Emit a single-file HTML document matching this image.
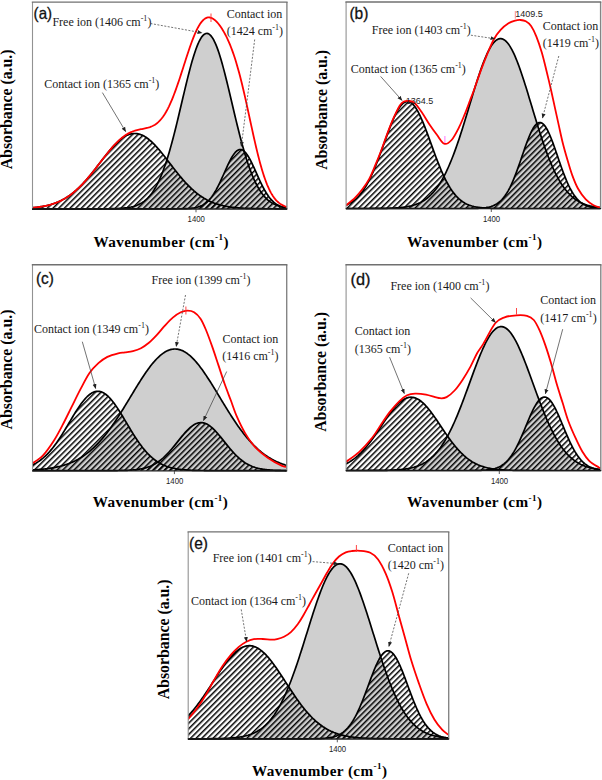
<!DOCTYPE html>
<html><head><meta charset="utf-8"><style>
html,body{margin:0;padding:0;background:#fff;}
body{width:602px;height:780px;overflow:hidden;}
svg{display:block;}
text{font-family:"Liberation Serif", serif;}
.ann{font-size:12px;fill:#1a1a1a;}
.lab{font-family:"Liberation Sans", sans-serif;fill:#111;}
.ax{font-weight:bold;fill:#000;}
.tk{font-family:"Liberation Sans", sans-serif;font-size:8px;fill:#222;}
</style></head><body>
<svg width="602" height="780" viewBox="0 0 602 780">
<defs>
<pattern id="hatch" patternUnits="userSpaceOnUse" width="20" height="4.0" patternTransform="rotate(-45)">
<rect x="0" y="0" width="20" height="1.5" fill="#000"/>
</pattern>
<marker id="ah" viewBox="0 0 10 10" refX="9" refY="5" markerWidth="5" markerHeight="5" orient="auto-start-reverse" markerUnits="userSpaceOnUse">
<path d="M0,1 L10,5 L0,9 Z" fill="#222"/>
</marker>
</defs>
<rect x="0" y="0" width="602" height="780" fill="#fff"/>

<clipPath id="clip_a"><rect x="32.00" y="2.00" width="255.00" height="208.80"/></clipPath>
<g clip-path="url(#clip_a)">
<path d="M32.00,208.80 L32.00,208.80 L33.00,208.80 L34.00,208.80 L35.00,208.80 L36.00,208.80 L37.00,208.80 L38.00,208.80 L39.00,208.80 L40.00,208.80 L41.00,208.80 L42.00,208.80 L43.00,208.80 L44.00,208.80 L45.00,208.80 L46.00,208.80 L47.00,208.80 L48.00,208.80 L49.00,208.80 L50.00,208.80 L51.00,208.80 L52.00,208.80 L53.00,208.80 L54.00,208.80 L55.00,208.80 L56.00,208.80 L57.00,208.80 L58.00,208.80 L59.00,208.80 L60.00,208.80 L61.00,208.80 L62.00,208.80 L63.00,208.80 L64.00,208.80 L65.00,208.80 L66.00,208.80 L67.00,208.80 L68.00,208.80 L69.00,208.80 L70.00,208.80 L71.00,208.80 L72.00,208.80 L73.00,208.80 L74.00,208.80 L75.00,208.80 L76.00,208.80 L77.00,208.80 L78.00,208.80 L79.00,208.80 L80.00,208.80 L81.00,208.80 L82.00,208.80 L83.00,208.80 L84.00,208.80 L85.00,208.80 L86.00,208.80 L87.00,208.80 L88.00,208.80 L89.00,208.80 L90.00,208.80 L91.00,208.80 L92.00,208.80 L93.00,208.79 L94.00,208.79 L95.00,208.79 L96.00,208.79 L97.00,208.79 L98.00,208.79 L99.00,208.78 L100.00,208.78 L101.00,208.78 L102.00,208.77 L103.00,208.77 L104.00,208.76 L105.00,208.76 L106.00,208.75 L107.00,208.74 L108.00,208.73 L109.00,208.72 L110.00,208.70 L111.00,208.69 L112.00,208.67 L113.00,208.65 L114.00,208.62 L115.00,208.59 L116.00,208.56 L117.00,208.52 L118.00,208.48 L119.00,208.43 L120.00,208.38 L121.00,208.31 L122.00,208.24 L123.00,208.16 L124.00,208.07 L125.00,207.97 L126.00,207.85 L127.00,207.72 L128.00,207.58 L129.00,207.42 L130.00,207.23 L131.00,207.03 L132.00,206.80 L133.00,206.55 L134.00,206.27 L135.00,205.96 L136.00,205.62 L137.00,205.24 L138.00,204.82 L139.00,204.36 L140.00,203.86 L141.00,203.31 L142.00,202.70 L143.00,202.04 L144.00,201.32 L145.00,200.54 L146.00,199.69 L147.00,198.76 L148.00,197.76 L149.00,196.69 L150.00,195.52 L151.00,194.27 L152.00,192.93 L153.00,191.49 L154.00,189.94 L155.00,188.30 L156.00,186.55 L157.00,184.68 L158.00,182.70 L159.00,180.60 L160.00,178.39 L161.00,176.05 L162.00,173.59 L163.00,171.00 L164.00,168.29 L165.00,165.45 L166.00,162.49 L167.00,159.41 L168.00,156.20 L169.00,152.88 L170.00,149.44 L171.00,145.89 L172.00,142.23 L173.00,138.48 L174.00,134.63 L175.00,130.69 L176.00,126.68 L177.00,122.60 L178.00,118.47 L179.00,114.28 L180.00,110.06 L181.00,105.82 L182.00,101.56 L183.00,97.31 L184.00,93.08 L185.00,88.87 L186.00,84.72 L187.00,80.62 L188.00,76.60 L189.00,72.67 L190.00,68.85 L191.00,65.15 L192.00,61.59 L193.00,58.19 L194.00,54.95 L195.00,51.89 L196.00,49.03 L197.00,46.37 L198.00,43.94 L199.00,41.73 L200.00,39.77 L201.00,38.06 L202.00,36.60 L203.00,35.41 L204.00,34.50 L205.00,33.85 L206.00,33.49 L207.00,33.41 L208.00,33.60 L209.00,34.08 L210.00,34.83 L211.00,35.86 L212.00,37.15 L213.00,38.71 L214.00,40.53 L215.00,42.59 L216.00,44.88 L217.00,47.41 L218.00,50.15 L219.00,53.09 L220.00,56.22 L221.00,59.53 L222.00,63.00 L223.00,66.62 L224.00,70.37 L225.00,74.23 L226.00,78.20 L227.00,82.25 L228.00,86.37 L229.00,90.55 L230.00,94.77 L231.00,99.01 L232.00,103.27 L233.00,107.52 L234.00,111.75 L235.00,115.96 L236.00,120.13 L237.00,124.24 L238.00,128.30 L239.00,132.28 L240.00,136.18 L241.00,139.99 L242.00,143.71 L243.00,147.32 L244.00,150.83 L245.00,154.22 L246.00,157.50 L247.00,160.65 L248.00,163.69 L249.00,166.60 L250.00,169.39 L251.00,172.05 L252.00,174.59 L253.00,177.00 L254.00,179.29 L255.00,181.46 L256.00,183.51 L257.00,185.44 L258.00,187.26 L259.00,188.97 L260.00,190.57 L261.00,192.07 L262.00,193.48 L263.00,194.78 L264.00,196.00 L265.00,197.13 L266.00,198.17 L267.00,199.14 L268.00,200.04 L269.00,200.86 L270.00,201.62 L271.00,202.31 L272.00,202.95 L273.00,203.53 L274.00,204.07 L275.00,204.55 L276.00,205.00 L277.00,205.40 L278.00,205.76 L279.00,206.09 L280.00,206.39 L281.00,206.66 L282.00,206.90 L283.00,207.11 L284.00,207.31 L285.00,207.48 L286.00,207.64 L287.00,207.78 L287.00,208.80 Z" fill="#cfcfcf"/>
<path d="M32.00,208.80 L32.00,207.78 L33.00,207.69 L34.00,207.60 L35.00,207.50 L36.00,207.39 L37.00,207.27 L38.00,207.14 L39.00,207.01 L40.00,206.86 L41.00,206.71 L42.00,206.54 L43.00,206.37 L44.00,206.18 L45.00,205.98 L46.00,205.77 L47.00,205.54 L48.00,205.30 L49.00,205.04 L50.00,204.77 L51.00,204.49 L52.00,204.18 L53.00,203.86 L54.00,203.52 L55.00,203.17 L56.00,202.79 L57.00,202.39 L58.00,201.98 L59.00,201.54 L60.00,201.08 L61.00,200.60 L62.00,200.09 L63.00,199.56 L64.00,199.01 L65.00,198.43 L66.00,197.83 L67.00,197.20 L68.00,196.55 L69.00,195.87 L70.00,195.16 L71.00,194.43 L72.00,193.67 L73.00,192.88 L74.00,192.06 L75.00,191.22 L76.00,190.35 L77.00,189.45 L78.00,188.53 L79.00,187.58 L80.00,186.60 L81.00,185.59 L82.00,184.56 L83.00,183.51 L84.00,182.43 L85.00,181.32 L86.00,180.20 L87.00,179.05 L88.00,177.88 L89.00,176.69 L90.00,175.49 L91.00,174.26 L92.00,173.02 L93.00,171.77 L94.00,170.50 L95.00,169.23 L96.00,167.94 L97.00,166.64 L98.00,165.34 L99.00,164.04 L100.00,162.74 L101.00,161.43 L102.00,160.13 L103.00,158.84 L104.00,157.55 L105.00,156.27 L106.00,155.00 L107.00,153.75 L108.00,152.51 L109.00,151.29 L110.00,150.10 L111.00,148.93 L112.00,147.78 L113.00,146.67 L114.00,145.58 L115.00,144.53 L116.00,143.52 L117.00,142.54 L118.00,141.60 L119.00,140.71 L120.00,139.86 L121.00,139.05 L122.00,138.30 L123.00,137.59 L124.00,136.94 L125.00,136.34 L126.00,135.79 L127.00,135.30 L128.00,134.87 L129.00,134.49 L130.00,134.18 L131.00,133.92 L132.00,133.72 L133.00,133.59 L134.00,133.52 L135.00,133.50 L136.00,133.55 L137.00,133.66 L138.00,133.83 L139.00,134.07 L140.00,134.36 L141.00,134.71 L142.00,135.12 L143.00,135.59 L144.00,136.11 L145.00,136.69 L146.00,137.32 L147.00,138.01 L148.00,138.75 L149.00,139.53 L150.00,140.36 L151.00,141.24 L152.00,142.16 L153.00,143.12 L154.00,144.12 L155.00,145.16 L156.00,146.23 L157.00,147.33 L158.00,148.47 L159.00,149.63 L160.00,150.81 L161.00,152.02 L162.00,153.25 L163.00,154.50 L164.00,155.76 L165.00,157.03 L166.00,158.32 L167.00,159.61 L168.00,160.91 L169.00,162.21 L170.00,163.52 L171.00,164.82 L172.00,166.13 L173.00,167.42 L174.00,168.71 L175.00,169.99 L176.00,171.26 L177.00,172.52 L178.00,173.77 L179.00,175.00 L180.00,176.21 L181.00,177.41 L182.00,178.59 L183.00,179.74 L184.00,180.88 L185.00,181.99 L186.00,183.08 L187.00,184.14 L188.00,185.18 L189.00,186.20 L190.00,187.19 L191.00,188.15 L192.00,189.09 L193.00,189.99 L194.00,190.88 L195.00,191.73 L196.00,192.56 L197.00,193.36 L198.00,194.13 L199.00,194.87 L200.00,195.59 L201.00,196.28 L202.00,196.94 L203.00,197.58 L204.00,198.20 L205.00,198.78 L206.00,199.35 L207.00,199.88 L208.00,200.40 L209.00,200.89 L210.00,201.36 L211.00,201.80 L212.00,202.23 L213.00,202.63 L214.00,203.02 L215.00,203.38 L216.00,203.73 L217.00,204.06 L218.00,204.37 L219.00,204.66 L220.00,204.94 L221.00,205.20 L222.00,205.44 L223.00,205.68 L224.00,205.89 L225.00,206.10 L226.00,206.29 L227.00,206.47 L228.00,206.64 L229.00,206.80 L230.00,206.95 L231.00,207.09 L232.00,207.22 L233.00,207.34 L234.00,207.45 L235.00,207.56 L236.00,207.66 L237.00,207.75 L238.00,207.83 L239.00,207.91 L240.00,207.98 L241.00,208.05 L242.00,208.11 L243.00,208.17 L244.00,208.23 L245.00,208.27 L246.00,208.32 L247.00,208.36 L248.00,208.40 L249.00,208.44 L250.00,208.47 L251.00,208.50 L252.00,208.53 L253.00,208.55 L254.00,208.57 L255.00,208.60 L256.00,208.61 L257.00,208.63 L258.00,208.65 L259.00,208.66 L260.00,208.68 L261.00,208.69 L262.00,208.70 L263.00,208.71 L264.00,208.72 L265.00,208.73 L266.00,208.73 L267.00,208.74 L268.00,208.75 L269.00,208.75 L270.00,208.76 L271.00,208.76 L272.00,208.77 L273.00,208.77 L274.00,208.77 L275.00,208.78 L276.00,208.78 L277.00,208.78 L278.00,208.78 L279.00,208.78 L280.00,208.79 L281.00,208.79 L282.00,208.79 L283.00,208.79 L284.00,208.79 L285.00,208.79 L286.00,208.79 L287.00,208.79 L287.00,208.80 Z" fill="url(#hatch)"/>
<path d="M32.00,208.80 L32.00,208.80 L33.00,208.80 L34.00,208.80 L35.00,208.80 L36.00,208.80 L37.00,208.80 L38.00,208.80 L39.00,208.80 L40.00,208.80 L41.00,208.80 L42.00,208.80 L43.00,208.80 L44.00,208.80 L45.00,208.80 L46.00,208.80 L47.00,208.80 L48.00,208.80 L49.00,208.80 L50.00,208.80 L51.00,208.80 L52.00,208.80 L53.00,208.80 L54.00,208.80 L55.00,208.80 L56.00,208.80 L57.00,208.80 L58.00,208.80 L59.00,208.80 L60.00,208.80 L61.00,208.80 L62.00,208.80 L63.00,208.80 L64.00,208.80 L65.00,208.80 L66.00,208.80 L67.00,208.80 L68.00,208.80 L69.00,208.80 L70.00,208.80 L71.00,208.80 L72.00,208.80 L73.00,208.80 L74.00,208.80 L75.00,208.80 L76.00,208.80 L77.00,208.80 L78.00,208.80 L79.00,208.80 L80.00,208.80 L81.00,208.80 L82.00,208.80 L83.00,208.80 L84.00,208.80 L85.00,208.80 L86.00,208.80 L87.00,208.80 L88.00,208.80 L89.00,208.80 L90.00,208.80 L91.00,208.80 L92.00,208.80 L93.00,208.80 L94.00,208.80 L95.00,208.80 L96.00,208.80 L97.00,208.80 L98.00,208.80 L99.00,208.80 L100.00,208.80 L101.00,208.80 L102.00,208.80 L103.00,208.80 L104.00,208.80 L105.00,208.80 L106.00,208.80 L107.00,208.80 L108.00,208.80 L109.00,208.80 L110.00,208.80 L111.00,208.80 L112.00,208.80 L113.00,208.80 L114.00,208.80 L115.00,208.80 L116.00,208.80 L117.00,208.80 L118.00,208.80 L119.00,208.80 L120.00,208.80 L121.00,208.80 L122.00,208.80 L123.00,208.80 L124.00,208.80 L125.00,208.80 L126.00,208.80 L127.00,208.80 L128.00,208.80 L129.00,208.80 L130.00,208.80 L131.00,208.80 L132.00,208.80 L133.00,208.80 L134.00,208.80 L135.00,208.80 L136.00,208.80 L137.00,208.80 L138.00,208.80 L139.00,208.80 L140.00,208.80 L141.00,208.80 L142.00,208.80 L143.00,208.80 L144.00,208.80 L145.00,208.80 L146.00,208.80 L147.00,208.80 L148.00,208.80 L149.00,208.80 L150.00,208.80 L151.00,208.80 L152.00,208.80 L153.00,208.80 L154.00,208.80 L155.00,208.80 L156.00,208.80 L157.00,208.80 L158.00,208.80 L159.00,208.80 L160.00,208.80 L161.00,208.80 L162.00,208.80 L163.00,208.80 L164.00,208.80 L165.00,208.80 L166.00,208.80 L167.00,208.80 L168.00,208.80 L169.00,208.80 L170.00,208.80 L171.00,208.79 L172.00,208.79 L173.00,208.79 L174.00,208.79 L175.00,208.79 L176.00,208.78 L177.00,208.78 L178.00,208.77 L179.00,208.76 L180.00,208.75 L181.00,208.74 L182.00,208.72 L183.00,208.70 L184.00,208.68 L185.00,208.65 L186.00,208.61 L187.00,208.57 L188.00,208.52 L189.00,208.45 L190.00,208.38 L191.00,208.29 L192.00,208.18 L193.00,208.05 L194.00,207.90 L195.00,207.72 L196.00,207.52 L197.00,207.28 L198.00,207.00 L199.00,206.68 L200.00,206.31 L201.00,205.90 L202.00,205.42 L203.00,204.88 L204.00,204.28 L205.00,203.60 L206.00,202.84 L207.00,202.00 L208.00,201.07 L209.00,200.05 L210.00,198.93 L211.00,197.71 L212.00,196.39 L213.00,194.97 L214.00,193.44 L215.00,191.81 L216.00,190.09 L217.00,188.26 L218.00,186.35 L219.00,184.35 L220.00,182.28 L221.00,180.15 L222.00,177.97 L223.00,175.75 L224.00,173.51 L225.00,171.26 L226.00,169.03 L227.00,166.82 L228.00,164.67 L229.00,162.59 L230.00,160.60 L231.00,158.72 L232.00,156.97 L233.00,155.36 L234.00,153.92 L235.00,152.67 L236.00,151.60 L237.00,150.75 L238.00,150.11 L239.00,149.70 L240.00,149.51 L241.00,149.56 L242.00,149.83 L243.00,150.34 L244.00,151.06 L245.00,152.00 L246.00,153.15 L247.00,154.48 L248.00,155.98 L249.00,157.65 L250.00,159.45 L251.00,161.38 L252.00,163.41 L253.00,165.52 L254.00,167.70 L255.00,169.92 L256.00,172.16 L257.00,174.41 L258.00,176.64 L259.00,178.85 L260.00,181.01 L261.00,183.12 L262.00,185.16 L263.00,187.12 L264.00,189.00 L265.00,190.79 L266.00,192.48 L267.00,194.06 L268.00,195.55 L269.00,196.93 L270.00,198.21 L271.00,199.39 L272.00,200.47 L273.00,201.45 L274.00,202.35 L275.00,203.15 L276.00,203.88 L277.00,204.53 L278.00,205.11 L279.00,205.62 L280.00,206.07 L281.00,206.47 L282.00,206.81 L283.00,207.12 L284.00,207.38 L285.00,207.60 L286.00,207.80 L287.00,207.96 L287.00,208.80 Z" fill="url(#hatch)"/>
<path d="M32.00,207.78 L33.00,207.69 L34.00,207.60 L35.00,207.50 L36.00,207.39 L37.00,207.27 L38.00,207.14 L39.00,207.01 L40.00,206.86 L41.00,206.71 L42.00,206.54 L43.00,206.37 L44.00,206.18 L45.00,205.98 L46.00,205.77 L47.00,205.54 L48.00,205.30 L49.00,205.04 L50.00,204.77 L51.00,204.49 L52.00,204.18 L53.00,203.86 L54.00,203.52 L55.00,203.17 L56.00,202.79 L57.00,202.39 L58.00,201.98 L59.00,201.54 L60.00,201.08 L61.00,200.60 L62.00,200.09 L63.00,199.56 L64.00,199.01 L65.00,198.43 L66.00,197.83 L67.00,197.20 L68.00,196.55 L69.00,195.87 L70.00,195.16 L71.00,194.43 L72.00,193.67 L73.00,192.88 L74.00,192.06 L75.00,191.22 L76.00,190.35 L77.00,189.45 L78.00,188.53 L79.00,187.58 L80.00,186.60 L81.00,185.59 L82.00,184.56 L83.00,183.51 L84.00,182.43 L85.00,181.32 L86.00,180.20 L87.00,179.05 L88.00,177.88 L89.00,176.69 L90.00,175.49 L91.00,174.26 L92.00,173.02 L93.00,171.77 L94.00,170.50 L95.00,169.23 L96.00,167.94 L97.00,166.64 L98.00,165.34 L99.00,164.04 L100.00,162.74 L101.00,161.43 L102.00,160.13 L103.00,158.84 L104.00,157.55 L105.00,156.27 L106.00,155.00 L107.00,153.75 L108.00,152.51 L109.00,151.29 L110.00,150.10 L111.00,148.93 L112.00,147.78 L113.00,146.67 L114.00,145.58 L115.00,144.53 L116.00,143.52 L117.00,142.54 L118.00,141.60 L119.00,140.71 L120.00,139.86 L121.00,139.05 L122.00,138.30 L123.00,137.59 L124.00,136.94 L125.00,136.34 L126.00,135.79 L127.00,135.30 L128.00,134.87 L129.00,134.49 L130.00,134.18 L131.00,133.92 L132.00,133.72 L133.00,133.59 L134.00,133.52 L135.00,133.50 L136.00,133.55 L137.00,133.66 L138.00,133.83 L139.00,134.07 L140.00,134.36 L141.00,134.71 L142.00,135.12 L143.00,135.59 L144.00,136.11 L145.00,136.69 L146.00,137.32 L147.00,138.01 L148.00,138.75 L149.00,139.53 L150.00,140.36 L151.00,141.24 L152.00,142.16 L153.00,143.12 L154.00,144.12 L155.00,145.16 L156.00,146.23 L157.00,147.33 L158.00,148.47 L159.00,149.63 L160.00,150.81 L161.00,152.02 L162.00,153.25 L163.00,154.50 L164.00,155.76 L165.00,157.03 L166.00,158.32 L167.00,159.61 L168.00,160.91 L169.00,162.21 L170.00,163.52 L171.00,164.82 L172.00,166.13 L173.00,167.42 L174.00,168.71 L175.00,169.99 L176.00,171.26 L177.00,172.52 L178.00,173.77 L179.00,175.00 L180.00,176.21 L181.00,177.41 L182.00,178.59 L183.00,179.74 L184.00,180.88 L185.00,181.99 L186.00,183.08 L187.00,184.14 L188.00,185.18 L189.00,186.20 L190.00,187.19 L191.00,188.15 L192.00,189.09 L193.00,189.99 L194.00,190.88 L195.00,191.73 L196.00,192.56 L197.00,193.36 L198.00,194.13 L199.00,194.87 L200.00,195.59 L201.00,196.28 L202.00,196.94 L203.00,197.58 L204.00,198.20 L205.00,198.78 L206.00,199.35 L207.00,199.88 L208.00,200.40 L209.00,200.89 L210.00,201.36 L211.00,201.80 L212.00,202.23 L213.00,202.63 L214.00,203.02 L215.00,203.38 L216.00,203.73 L217.00,204.06 L218.00,204.37 L219.00,204.66 L220.00,204.94 L221.00,205.20 L222.00,205.44 L223.00,205.68 L224.00,205.89 L225.00,206.10 L226.00,206.29 L227.00,206.47 L228.00,206.64 L229.00,206.80 L230.00,206.95 L231.00,207.09 L232.00,207.22 L233.00,207.34 L234.00,207.45 L235.00,207.56 L236.00,207.66 L237.00,207.75 L238.00,207.83 L239.00,207.91 L240.00,207.98 L241.00,208.05 L242.00,208.11 L243.00,208.17 L244.00,208.23 L245.00,208.27 L246.00,208.32 L247.00,208.36 L248.00,208.40 L249.00,208.44 L250.00,208.47 L251.00,208.50 L252.00,208.53 L253.00,208.55 L254.00,208.57 L255.00,208.60 L256.00,208.61 L257.00,208.63 L258.00,208.65 L259.00,208.66 L260.00,208.68 L261.00,208.69 L262.00,208.70 L263.00,208.71 L264.00,208.72 L265.00,208.73 L266.00,208.73 L267.00,208.74 L268.00,208.75 L269.00,208.75 L270.00,208.76 L271.00,208.76 L272.00,208.77 L273.00,208.77 L274.00,208.77 L275.00,208.78 L276.00,208.78 L277.00,208.78 L278.00,208.78 L279.00,208.78 L280.00,208.79 L281.00,208.79 L282.00,208.79 L283.00,208.79 L284.00,208.79 L285.00,208.79 L286.00,208.79 L287.00,208.79" fill="none" stroke="#000" stroke-width="1.7" stroke-linejoin="round"/>
<path d="M32.00,208.80 L33.00,208.80 L34.00,208.80 L35.00,208.80 L36.00,208.80 L37.00,208.80 L38.00,208.80 L39.00,208.80 L40.00,208.80 L41.00,208.80 L42.00,208.80 L43.00,208.80 L44.00,208.80 L45.00,208.80 L46.00,208.80 L47.00,208.80 L48.00,208.80 L49.00,208.80 L50.00,208.80 L51.00,208.80 L52.00,208.80 L53.00,208.80 L54.00,208.80 L55.00,208.80 L56.00,208.80 L57.00,208.80 L58.00,208.80 L59.00,208.80 L60.00,208.80 L61.00,208.80 L62.00,208.80 L63.00,208.80 L64.00,208.80 L65.00,208.80 L66.00,208.80 L67.00,208.80 L68.00,208.80 L69.00,208.80 L70.00,208.80 L71.00,208.80 L72.00,208.80 L73.00,208.80 L74.00,208.80 L75.00,208.80 L76.00,208.80 L77.00,208.80 L78.00,208.80 L79.00,208.80 L80.00,208.80 L81.00,208.80 L82.00,208.80 L83.00,208.80 L84.00,208.80 L85.00,208.80 L86.00,208.80 L87.00,208.80 L88.00,208.80 L89.00,208.80 L90.00,208.80 L91.00,208.80 L92.00,208.80 L93.00,208.79 L94.00,208.79 L95.00,208.79 L96.00,208.79 L97.00,208.79 L98.00,208.79 L99.00,208.78 L100.00,208.78 L101.00,208.78 L102.00,208.77 L103.00,208.77 L104.00,208.76 L105.00,208.76 L106.00,208.75 L107.00,208.74 L108.00,208.73 L109.00,208.72 L110.00,208.70 L111.00,208.69 L112.00,208.67 L113.00,208.65 L114.00,208.62 L115.00,208.59 L116.00,208.56 L117.00,208.52 L118.00,208.48 L119.00,208.43 L120.00,208.38 L121.00,208.31 L122.00,208.24 L123.00,208.16 L124.00,208.07 L125.00,207.97 L126.00,207.85 L127.00,207.72 L128.00,207.58 L129.00,207.42 L130.00,207.23 L131.00,207.03 L132.00,206.80 L133.00,206.55 L134.00,206.27 L135.00,205.96 L136.00,205.62 L137.00,205.24 L138.00,204.82 L139.00,204.36 L140.00,203.86 L141.00,203.31 L142.00,202.70 L143.00,202.04 L144.00,201.32 L145.00,200.54 L146.00,199.69 L147.00,198.76 L148.00,197.76 L149.00,196.69 L150.00,195.52 L151.00,194.27 L152.00,192.93 L153.00,191.49 L154.00,189.94 L155.00,188.30 L156.00,186.55 L157.00,184.68 L158.00,182.70 L159.00,180.60 L160.00,178.39 L161.00,176.05 L162.00,173.59 L163.00,171.00 L164.00,168.29 L165.00,165.45 L166.00,162.49 L167.00,159.41 L168.00,156.20 L169.00,152.88 L170.00,149.44 L171.00,145.89 L172.00,142.23 L173.00,138.48 L174.00,134.63 L175.00,130.69 L176.00,126.68 L177.00,122.60 L178.00,118.47 L179.00,114.28 L180.00,110.06 L181.00,105.82 L182.00,101.56 L183.00,97.31 L184.00,93.08 L185.00,88.87 L186.00,84.72 L187.00,80.62 L188.00,76.60 L189.00,72.67 L190.00,68.85 L191.00,65.15 L192.00,61.59 L193.00,58.19 L194.00,54.95 L195.00,51.89 L196.00,49.03 L197.00,46.37 L198.00,43.94 L199.00,41.73 L200.00,39.77 L201.00,38.06 L202.00,36.60 L203.00,35.41 L204.00,34.50 L205.00,33.85 L206.00,33.49 L207.00,33.41 L208.00,33.60 L209.00,34.08 L210.00,34.83 L211.00,35.86 L212.00,37.15 L213.00,38.71 L214.00,40.53 L215.00,42.59 L216.00,44.88 L217.00,47.41 L218.00,50.15 L219.00,53.09 L220.00,56.22 L221.00,59.53 L222.00,63.00 L223.00,66.62 L224.00,70.37 L225.00,74.23 L226.00,78.20 L227.00,82.25 L228.00,86.37 L229.00,90.55 L230.00,94.77 L231.00,99.01 L232.00,103.27 L233.00,107.52 L234.00,111.75 L235.00,115.96 L236.00,120.13 L237.00,124.24 L238.00,128.30 L239.00,132.28 L240.00,136.18 L241.00,139.99 L242.00,143.71 L243.00,147.32 L244.00,150.83 L245.00,154.22 L246.00,157.50 L247.00,160.65 L248.00,163.69 L249.00,166.60 L250.00,169.39 L251.00,172.05 L252.00,174.59 L253.00,177.00 L254.00,179.29 L255.00,181.46 L256.00,183.51 L257.00,185.44 L258.00,187.26 L259.00,188.97 L260.00,190.57 L261.00,192.07 L262.00,193.48 L263.00,194.78 L264.00,196.00 L265.00,197.13 L266.00,198.17 L267.00,199.14 L268.00,200.04 L269.00,200.86 L270.00,201.62 L271.00,202.31 L272.00,202.95 L273.00,203.53 L274.00,204.07 L275.00,204.55 L276.00,205.00 L277.00,205.40 L278.00,205.76 L279.00,206.09 L280.00,206.39 L281.00,206.66 L282.00,206.90 L283.00,207.11 L284.00,207.31 L285.00,207.48 L286.00,207.64 L287.00,207.78" fill="none" stroke="#000" stroke-width="1.7" stroke-linejoin="round"/>
<path d="M32.00,208.80 L33.00,208.80 L34.00,208.80 L35.00,208.80 L36.00,208.80 L37.00,208.80 L38.00,208.80 L39.00,208.80 L40.00,208.80 L41.00,208.80 L42.00,208.80 L43.00,208.80 L44.00,208.80 L45.00,208.80 L46.00,208.80 L47.00,208.80 L48.00,208.80 L49.00,208.80 L50.00,208.80 L51.00,208.80 L52.00,208.80 L53.00,208.80 L54.00,208.80 L55.00,208.80 L56.00,208.80 L57.00,208.80 L58.00,208.80 L59.00,208.80 L60.00,208.80 L61.00,208.80 L62.00,208.80 L63.00,208.80 L64.00,208.80 L65.00,208.80 L66.00,208.80 L67.00,208.80 L68.00,208.80 L69.00,208.80 L70.00,208.80 L71.00,208.80 L72.00,208.80 L73.00,208.80 L74.00,208.80 L75.00,208.80 L76.00,208.80 L77.00,208.80 L78.00,208.80 L79.00,208.80 L80.00,208.80 L81.00,208.80 L82.00,208.80 L83.00,208.80 L84.00,208.80 L85.00,208.80 L86.00,208.80 L87.00,208.80 L88.00,208.80 L89.00,208.80 L90.00,208.80 L91.00,208.80 L92.00,208.80 L93.00,208.80 L94.00,208.80 L95.00,208.80 L96.00,208.80 L97.00,208.80 L98.00,208.80 L99.00,208.80 L100.00,208.80 L101.00,208.80 L102.00,208.80 L103.00,208.80 L104.00,208.80 L105.00,208.80 L106.00,208.80 L107.00,208.80 L108.00,208.80 L109.00,208.80 L110.00,208.80 L111.00,208.80 L112.00,208.80 L113.00,208.80 L114.00,208.80 L115.00,208.80 L116.00,208.80 L117.00,208.80 L118.00,208.80 L119.00,208.80 L120.00,208.80 L121.00,208.80 L122.00,208.80 L123.00,208.80 L124.00,208.80 L125.00,208.80 L126.00,208.80 L127.00,208.80 L128.00,208.80 L129.00,208.80 L130.00,208.80 L131.00,208.80 L132.00,208.80 L133.00,208.80 L134.00,208.80 L135.00,208.80 L136.00,208.80 L137.00,208.80 L138.00,208.80 L139.00,208.80 L140.00,208.80 L141.00,208.80 L142.00,208.80 L143.00,208.80 L144.00,208.80 L145.00,208.80 L146.00,208.80 L147.00,208.80 L148.00,208.80 L149.00,208.80 L150.00,208.80 L151.00,208.80 L152.00,208.80 L153.00,208.80 L154.00,208.80 L155.00,208.80 L156.00,208.80 L157.00,208.80 L158.00,208.80 L159.00,208.80 L160.00,208.80 L161.00,208.80 L162.00,208.80 L163.00,208.80 L164.00,208.80 L165.00,208.80 L166.00,208.80 L167.00,208.80 L168.00,208.80 L169.00,208.80 L170.00,208.80 L171.00,208.79 L172.00,208.79 L173.00,208.79 L174.00,208.79 L175.00,208.79 L176.00,208.78 L177.00,208.78 L178.00,208.77 L179.00,208.76 L180.00,208.75 L181.00,208.74 L182.00,208.72 L183.00,208.70 L184.00,208.68 L185.00,208.65 L186.00,208.61 L187.00,208.57 L188.00,208.52 L189.00,208.45 L190.00,208.38 L191.00,208.29 L192.00,208.18 L193.00,208.05 L194.00,207.90 L195.00,207.72 L196.00,207.52 L197.00,207.28 L198.00,207.00 L199.00,206.68 L200.00,206.31 L201.00,205.90 L202.00,205.42 L203.00,204.88 L204.00,204.28 L205.00,203.60 L206.00,202.84 L207.00,202.00 L208.00,201.07 L209.00,200.05 L210.00,198.93 L211.00,197.71 L212.00,196.39 L213.00,194.97 L214.00,193.44 L215.00,191.81 L216.00,190.09 L217.00,188.26 L218.00,186.35 L219.00,184.35 L220.00,182.28 L221.00,180.15 L222.00,177.97 L223.00,175.75 L224.00,173.51 L225.00,171.26 L226.00,169.03 L227.00,166.82 L228.00,164.67 L229.00,162.59 L230.00,160.60 L231.00,158.72 L232.00,156.97 L233.00,155.36 L234.00,153.92 L235.00,152.67 L236.00,151.60 L237.00,150.75 L238.00,150.11 L239.00,149.70 L240.00,149.51 L241.00,149.56 L242.00,149.83 L243.00,150.34 L244.00,151.06 L245.00,152.00 L246.00,153.15 L247.00,154.48 L248.00,155.98 L249.00,157.65 L250.00,159.45 L251.00,161.38 L252.00,163.41 L253.00,165.52 L254.00,167.70 L255.00,169.92 L256.00,172.16 L257.00,174.41 L258.00,176.64 L259.00,178.85 L260.00,181.01 L261.00,183.12 L262.00,185.16 L263.00,187.12 L264.00,189.00 L265.00,190.79 L266.00,192.48 L267.00,194.06 L268.00,195.55 L269.00,196.93 L270.00,198.21 L271.00,199.39 L272.00,200.47 L273.00,201.45 L274.00,202.35 L275.00,203.15 L276.00,203.88 L277.00,204.53 L278.00,205.11 L279.00,205.62 L280.00,206.07 L281.00,206.47 L282.00,206.81 L283.00,207.12 L284.00,207.38 L285.00,207.60 L286.00,207.80 L287.00,207.96" fill="none" stroke="#000" stroke-width="1.7" stroke-linejoin="round"/>
<path d="M32.00,207.78 L33.00,207.69 L34.00,207.60 L35.00,207.50 L36.00,207.39 L37.00,207.27 L38.00,207.14 L39.00,207.01 L40.00,206.86 L41.00,206.71 L42.00,206.54 L43.00,206.37 L44.00,206.18 L45.00,205.98 L46.00,205.77 L47.00,205.54 L48.00,205.30 L49.00,205.04 L50.00,204.77 L51.00,204.49 L52.00,204.18 L53.00,203.86 L54.00,203.52 L55.00,203.17 L56.00,202.79 L57.00,202.39 L58.00,201.98 L59.00,201.54 L60.00,201.08 L61.00,200.60 L62.00,200.09 L63.00,199.56 L64.00,199.01 L65.00,198.43 L66.00,197.83 L67.00,197.20 L68.00,196.55 L69.00,195.87 L70.00,195.16 L71.00,194.43 L72.00,193.67 L73.00,192.88 L74.00,192.06 L75.00,191.22 L76.00,190.35 L77.00,189.45 L78.00,188.53 L79.00,187.58 L80.00,186.60 L81.00,185.59 L82.00,184.56 L83.00,183.51 L84.00,182.43 L85.00,181.32 L86.00,180.20 L87.00,179.05 L88.00,177.88 L89.00,176.69 L90.00,175.48 L91.00,174.26 L92.00,173.02 L93.00,171.76 L94.00,170.50 L95.00,169.22 L96.00,167.93 L97.00,166.63 L98.00,165.33 L99.00,164.03 L100.00,162.72 L101.00,161.41 L102.00,160.10 L103.00,158.80 L104.00,157.51 L105.00,156.22 L106.00,154.95 L107.00,153.69 L108.00,152.44 L109.00,151.21 L110.00,150.00 L111.00,148.81 L112.00,147.65 L113.00,146.51 L114.00,145.40 L115.00,144.32 L116.00,143.28 L117.00,142.26 L118.00,141.28 L119.00,140.34 L120.00,139.43 L121.00,138.57 L122.00,137.74 L123.00,136.95 L124.00,136.21 L125.00,135.51 L126.00,134.85 L127.00,134.23 L128.00,133.65 L129.00,133.11 L130.00,132.61 L131.00,132.15 L132.00,131.73 L133.00,131.34 L134.00,130.99 L135.00,130.67 L136.00,130.37 L137.00,130.10 L138.00,129.86 L139.00,129.63 L140.00,129.42 L141.00,129.22 L142.00,129.02 L143.00,128.83 L144.00,128.63 L145.00,128.43 L146.00,128.21 L147.00,127.97 L148.00,127.71 L149.00,127.42 L150.00,127.08 L151.00,126.71 L152.00,126.29 L153.00,125.81 L154.00,125.27 L155.00,124.66 L156.00,123.97 L157.00,123.21 L158.00,122.37 L159.00,121.43 L160.00,120.40 L161.00,119.27 L162.00,118.04 L163.00,116.70 L164.00,115.25 L165.00,113.68 L166.00,112.01 L167.00,110.22 L168.00,108.31 L169.00,106.29 L170.00,104.15 L171.00,101.91 L172.00,99.55 L173.00,97.09 L174.00,94.53 L175.00,91.87 L176.00,89.13 L177.00,86.30 L178.00,83.40 L179.00,80.44 L180.00,77.43 L181.00,74.37 L182.00,71.27 L183.00,68.16 L184.00,65.03 L185.00,61.91 L186.00,58.81 L187.00,55.73 L188.00,52.70 L189.00,49.72 L190.00,46.81 L191.00,43.99 L192.00,41.26 L193.00,38.63 L194.00,36.12 L195.00,33.74 L196.00,31.50 L197.00,29.40 L198.00,27.46 L199.00,25.68 L200.00,24.07 L201.00,22.63 L202.00,21.37 L203.00,20.28 L204.00,19.37 L205.00,18.64 L206.00,18.08 L207.00,17.69 L208.00,17.47 L209.00,17.42 L210.00,17.52 L211.00,17.77 L212.00,18.17 L213.00,18.71 L214.00,19.39 L215.00,20.18 L216.00,21.10 L217.00,22.13 L218.00,23.26 L219.00,24.50 L220.00,25.84 L221.00,27.28 L222.00,28.81 L223.00,30.44 L224.00,32.17 L225.00,33.99 L226.00,35.92 L227.00,37.95 L228.00,40.09 L229.00,42.34 L230.00,44.72 L231.00,47.22 L232.00,49.85 L233.00,52.62 L234.00,55.53 L235.00,58.59 L236.00,61.79 L237.00,65.14 L238.00,68.64 L239.00,72.28 L240.00,76.07 L241.00,80.00 L242.00,84.05 L243.00,88.23 L244.00,92.52 L245.00,96.90 L246.00,101.36 L247.00,105.89 L248.00,110.47 L249.00,115.09 L250.00,119.71 L251.00,124.33 L252.00,128.92 L253.00,133.47 L254.00,137.96 L255.00,142.37 L256.00,146.68 L257.00,150.88 L258.00,154.95 L259.00,158.88 L260.00,162.66 L261.00,166.28 L262.00,169.74 L263.00,173.02 L264.00,176.12 L265.00,179.04 L266.00,181.78 L267.00,184.35 L268.00,186.73 L269.00,188.94 L270.00,190.99 L271.00,192.86 L272.00,194.59 L273.00,196.16 L274.00,197.59 L275.00,198.88 L276.00,200.05 L277.00,201.11 L278.00,202.05 L279.00,202.89 L280.00,203.64 L281.00,204.31 L282.00,204.90 L283.00,205.42 L284.00,205.88 L285.00,206.28 L286.00,206.63 L287.00,206.93" fill="none" stroke="#ff0000" stroke-width="1.8" stroke-linejoin="round"/>
</g>
<line x1="32.50" y1="2.10" x2="32.50" y2="208.80" stroke="#929292" stroke-width="1.1"/>
<line x1="286.90" y1="2.10" x2="286.90" y2="208.80" stroke="#858585" stroke-width="1.4"/>
<line x1="32.50" y1="2.10" x2="286.90" y2="2.10" stroke="#707070" stroke-width="1.4" stroke-linecap="square"/>
<line x1="32.00" y1="209.00" x2="287.40" y2="209.00" stroke="#1a1a1a" stroke-width="1.3"/>
<line x1="196.00" y1="208.80" x2="196.00" y2="212.30" stroke="#333" stroke-width="0.8"/>
<text class="tk" style="font-size:9px" x="187.60" y="221.80" textLength="17.3" lengthAdjust="spacingAndGlyphs">1400</text>
<text class="ax" font-size="15.8" text-anchor="middle" transform="translate(12.30,109.40) rotate(-90)">Absorbance (a.u.)</text>
<text class="ax" font-size="15.2" x="93.50" y="246.70" letter-spacing="0.42">Wavenumber (cm<tspan font-size="9" dy="-6.5">-1</tspan><tspan dy="6.5">)</tspan></text>
<text class="lab" style="font-size:16.5px" stroke="#111" stroke-width="0.3" x="33.60" y="19.40" textLength="18.50" lengthAdjust="spacingAndGlyphs">(a)</text>
<text class="ann" x="52.40" y="26.20">Free ion (1406 cm<tspan font-size="8" dy="-5">-1</tspan><tspan dy="5">)</tspan></text>
<text class="ann" x="226.70" y="18.10">Contact ion</text>
<text class="ann" x="226.70" y="34.90">(1424 cm<tspan font-size="8" dy="-5">-1</tspan><tspan dy="5">)</tspan></text>
<text class="ann" x="44.30" y="87.90">Contact ion (1365 cm<tspan font-size="8" dy="-5">-1</tspan><tspan dy="5">)</tspan></text>
<line x1="150.50" y1="23.50" x2="202.00" y2="32.80" stroke="#444" stroke-width="0.75" stroke-dasharray="2,1.5" marker-end="url(#ah)"/>
<line x1="254.70" y1="39.50" x2="241.30" y2="146.50" stroke="#444" stroke-width="0.75" stroke-dasharray="2,1.5" marker-end="url(#ah)"/>
<line x1="102.40" y1="92.60" x2="125.70" y2="131.60" stroke="#444" stroke-width="0.75" marker-end="url(#ah)"/>
<line x1="211.00" y1="13.50" x2="211.00" y2="22.00" stroke="#ff3030" stroke-width="0.9"/>
<clipPath id="clip_b"><rect x="346.00" y="1.60" width="254.50" height="208.90"/></clipPath>
<g clip-path="url(#clip_b)">
<path d="M346.00,208.50 L346.00,208.50 L347.00,208.50 L348.00,208.50 L349.00,208.50 L350.00,208.50 L351.00,208.50 L352.00,208.50 L353.00,208.50 L354.00,208.50 L355.00,208.50 L356.00,208.50 L357.00,208.50 L358.00,208.50 L359.00,208.49 L360.00,208.49 L361.00,208.49 L362.00,208.49 L363.00,208.49 L364.00,208.49 L365.00,208.49 L366.00,208.49 L367.00,208.48 L368.00,208.48 L369.00,208.48 L370.00,208.48 L371.00,208.47 L372.00,208.47 L373.00,208.46 L374.00,208.46 L375.00,208.45 L376.00,208.45 L377.00,208.44 L378.00,208.43 L379.00,208.42 L380.00,208.41 L381.00,208.40 L382.00,208.39 L383.00,208.37 L384.00,208.35 L385.00,208.34 L386.00,208.31 L387.00,208.29 L388.00,208.27 L389.00,208.24 L390.00,208.20 L391.00,208.17 L392.00,208.13 L393.00,208.08 L394.00,208.04 L395.00,207.98 L396.00,207.92 L397.00,207.85 L398.00,207.78 L399.00,207.70 L400.00,207.61 L401.00,207.52 L402.00,207.41 L403.00,207.29 L404.00,207.16 L405.00,207.02 L406.00,206.87 L407.00,206.70 L408.00,206.52 L409.00,206.32 L410.00,206.10 L411.00,205.87 L412.00,205.61 L413.00,205.34 L414.00,205.04 L415.00,204.71 L416.00,204.36 L417.00,203.98 L418.00,203.58 L419.00,203.14 L420.00,202.67 L421.00,202.16 L422.00,201.62 L423.00,201.04 L424.00,200.41 L425.00,199.75 L426.00,199.04 L427.00,198.28 L428.00,197.47 L429.00,196.61 L430.00,195.70 L431.00,194.74 L432.00,193.71 L433.00,192.63 L434.00,191.48 L435.00,190.27 L436.00,189.00 L437.00,187.65 L438.00,186.24 L439.00,184.76 L440.00,183.20 L441.00,181.57 L442.00,179.86 L443.00,178.08 L444.00,176.22 L445.00,174.29 L446.00,172.27 L447.00,170.18 L448.00,168.01 L449.00,165.75 L450.00,163.42 L451.00,161.02 L452.00,158.53 L453.00,155.97 L454.00,153.34 L455.00,150.64 L456.00,147.86 L457.00,145.02 L458.00,142.12 L459.00,139.15 L460.00,136.13 L461.00,133.05 L462.00,129.93 L463.00,126.76 L464.00,123.55 L465.00,120.31 L466.00,117.04 L467.00,113.74 L468.00,110.43 L469.00,107.11 L470.00,103.79 L471.00,100.47 L472.00,97.16 L473.00,93.87 L474.00,90.60 L475.00,87.37 L476.00,84.17 L477.00,81.03 L478.00,77.94 L479.00,74.92 L480.00,71.97 L481.00,69.10 L482.00,66.31 L483.00,63.63 L484.00,61.04 L485.00,58.56 L486.00,56.21 L487.00,53.97 L488.00,51.87 L489.00,49.90 L490.00,48.07 L491.00,46.39 L492.00,44.87 L493.00,43.50 L494.00,42.29 L495.00,41.25 L496.00,40.38 L497.00,39.68 L498.00,39.15 L499.00,38.80 L500.00,38.62 L501.00,38.62 L502.00,38.80 L503.00,39.15 L504.00,39.68 L505.00,40.38 L506.00,41.25 L507.00,42.29 L508.00,43.50 L509.00,44.87 L510.00,46.39 L511.00,48.07 L512.00,49.90 L513.00,51.87 L514.00,53.97 L515.00,56.21 L516.00,58.56 L517.00,61.04 L518.00,63.63 L519.00,66.31 L520.00,69.10 L521.00,71.97 L522.00,74.92 L523.00,77.94 L524.00,81.03 L525.00,84.17 L526.00,87.37 L527.00,90.60 L528.00,93.87 L529.00,97.16 L530.00,100.47 L531.00,103.79 L532.00,107.11 L533.00,110.43 L534.00,113.74 L535.00,117.04 L536.00,120.31 L537.00,123.55 L538.00,126.76 L539.00,129.93 L540.00,133.05 L541.00,136.13 L542.00,139.15 L543.00,142.12 L544.00,145.02 L545.00,147.86 L546.00,150.64 L547.00,153.34 L548.00,155.97 L549.00,158.53 L550.00,161.02 L551.00,163.42 L552.00,165.75 L553.00,168.01 L554.00,170.18 L555.00,172.27 L556.00,174.29 L557.00,176.22 L558.00,178.08 L559.00,179.86 L560.00,181.57 L561.00,183.20 L562.00,184.76 L563.00,186.24 L564.00,187.65 L565.00,189.00 L566.00,190.27 L567.00,191.48 L568.00,192.63 L569.00,193.71 L570.00,194.74 L571.00,195.70 L572.00,196.61 L573.00,197.47 L574.00,198.28 L575.00,199.04 L576.00,199.75 L577.00,200.41 L578.00,201.04 L579.00,201.62 L580.00,202.16 L581.00,202.67 L582.00,203.14 L583.00,203.58 L584.00,203.98 L585.00,204.36 L586.00,204.71 L587.00,205.04 L588.00,205.34 L589.00,205.61 L590.00,205.87 L591.00,206.10 L592.00,206.32 L593.00,206.52 L594.00,206.70 L595.00,206.87 L596.00,207.02 L597.00,207.16 L598.00,207.29 L599.00,207.41 L600.00,207.52 L600.50,207.57 L600.50,208.50 Z" fill="#cfcfcf"/>
<path d="M346.00,208.50 L346.00,205.02 L347.00,204.61 L348.00,204.16 L349.00,203.67 L350.00,203.14 L351.00,202.55 L352.00,201.92 L353.00,201.23 L354.00,200.48 L355.00,199.68 L356.00,198.81 L357.00,197.87 L358.00,196.86 L359.00,195.78 L360.00,194.63 L361.00,193.39 L362.00,192.08 L363.00,190.69 L364.00,189.21 L365.00,187.65 L366.00,186.00 L367.00,184.27 L368.00,182.45 L369.00,180.54 L370.00,178.55 L371.00,176.47 L372.00,174.31 L373.00,172.08 L374.00,169.76 L375.00,167.38 L376.00,164.93 L377.00,162.41 L378.00,159.84 L379.00,157.21 L380.00,154.55 L381.00,151.84 L382.00,149.11 L383.00,146.36 L384.00,143.60 L385.00,140.84 L386.00,138.09 L387.00,135.36 L388.00,132.67 L389.00,130.01 L390.00,127.41 L391.00,124.88 L392.00,122.42 L393.00,120.05 L394.00,117.78 L395.00,115.62 L396.00,113.57 L397.00,111.66 L398.00,109.90 L399.00,108.28 L400.00,106.81 L401.00,105.52 L402.00,104.39 L403.00,103.44 L404.00,102.68 L405.00,102.10 L406.00,101.72 L407.00,101.52 L408.00,101.52 L409.00,101.72 L410.00,102.10 L411.00,102.68 L412.00,103.44 L413.00,104.39 L414.00,105.52 L415.00,106.81 L416.00,108.28 L417.00,109.90 L418.00,111.66 L419.00,113.57 L420.00,115.62 L421.00,117.78 L422.00,120.05 L423.00,122.42 L424.00,124.88 L425.00,127.41 L426.00,130.01 L427.00,132.67 L428.00,135.36 L429.00,138.09 L430.00,140.84 L431.00,143.60 L432.00,146.36 L433.00,149.11 L434.00,151.84 L435.00,154.55 L436.00,157.21 L437.00,159.84 L438.00,162.41 L439.00,164.93 L440.00,167.38 L441.00,169.76 L442.00,172.08 L443.00,174.31 L444.00,176.47 L445.00,178.55 L446.00,180.54 L447.00,182.45 L448.00,184.27 L449.00,186.00 L450.00,187.65 L451.00,189.21 L452.00,190.69 L453.00,192.08 L454.00,193.39 L455.00,194.63 L456.00,195.78 L457.00,196.86 L458.00,197.87 L459.00,198.81 L460.00,199.68 L461.00,200.48 L462.00,201.23 L463.00,201.92 L464.00,202.55 L465.00,203.14 L466.00,203.67 L467.00,204.16 L468.00,204.61 L469.00,205.02 L470.00,205.39 L471.00,205.72 L472.00,206.03 L473.00,206.30 L474.00,206.55 L475.00,206.77 L476.00,206.97 L477.00,207.15 L478.00,207.31 L479.00,207.45 L480.00,207.58 L481.00,207.70 L482.00,207.80 L483.00,207.89 L484.00,207.97 L485.00,208.03 L486.00,208.10 L487.00,208.15 L488.00,208.20 L489.00,208.24 L490.00,208.27 L491.00,208.31 L492.00,208.33 L493.00,208.36 L494.00,208.38 L495.00,208.40 L496.00,208.41 L497.00,208.42 L498.00,208.44 L499.00,208.45 L500.00,208.45 L501.00,208.46 L502.00,208.47 L503.00,208.47 L504.00,208.48 L505.00,208.48 L506.00,208.48 L507.00,208.49 L508.00,208.49 L509.00,208.49 L510.00,208.49 L511.00,208.49 L512.00,208.49 L513.00,208.50 L514.00,208.50 L515.00,208.50 L516.00,208.50 L517.00,208.50 L518.00,208.50 L519.00,208.50 L520.00,208.50 L521.00,208.50 L522.00,208.50 L523.00,208.50 L524.00,208.50 L525.00,208.50 L526.00,208.50 L527.00,208.50 L528.00,208.50 L529.00,208.50 L530.00,208.50 L531.00,208.50 L532.00,208.50 L533.00,208.50 L534.00,208.50 L535.00,208.50 L536.00,208.50 L537.00,208.50 L538.00,208.50 L539.00,208.50 L540.00,208.50 L541.00,208.50 L542.00,208.50 L543.00,208.50 L544.00,208.50 L545.00,208.50 L546.00,208.50 L547.00,208.50 L548.00,208.50 L549.00,208.50 L550.00,208.50 L551.00,208.50 L552.00,208.50 L553.00,208.50 L554.00,208.50 L555.00,208.50 L556.00,208.50 L557.00,208.50 L558.00,208.50 L559.00,208.50 L560.00,208.50 L561.00,208.50 L562.00,208.50 L563.00,208.50 L564.00,208.50 L565.00,208.50 L566.00,208.50 L567.00,208.50 L568.00,208.50 L569.00,208.50 L570.00,208.50 L571.00,208.50 L572.00,208.50 L573.00,208.50 L574.00,208.50 L575.00,208.50 L576.00,208.50 L577.00,208.50 L578.00,208.50 L579.00,208.50 L580.00,208.50 L581.00,208.50 L582.00,208.50 L583.00,208.50 L584.00,208.50 L585.00,208.50 L586.00,208.50 L587.00,208.50 L588.00,208.50 L589.00,208.50 L590.00,208.50 L591.00,208.50 L592.00,208.50 L593.00,208.50 L594.00,208.50 L595.00,208.50 L596.00,208.50 L597.00,208.50 L598.00,208.50 L599.00,208.50 L600.00,208.50 L600.50,208.50 L600.50,208.50 Z" fill="url(#hatch)"/>
<path d="M346.00,208.50 L346.00,208.50 L347.00,208.50 L348.00,208.50 L349.00,208.50 L350.00,208.50 L351.00,208.50 L352.00,208.50 L353.00,208.50 L354.00,208.50 L355.00,208.50 L356.00,208.50 L357.00,208.50 L358.00,208.50 L359.00,208.50 L360.00,208.50 L361.00,208.50 L362.00,208.50 L363.00,208.50 L364.00,208.50 L365.00,208.50 L366.00,208.50 L367.00,208.50 L368.00,208.50 L369.00,208.50 L370.00,208.50 L371.00,208.50 L372.00,208.50 L373.00,208.50 L374.00,208.50 L375.00,208.50 L376.00,208.50 L377.00,208.50 L378.00,208.50 L379.00,208.50 L380.00,208.50 L381.00,208.50 L382.00,208.50 L383.00,208.50 L384.00,208.50 L385.00,208.50 L386.00,208.50 L387.00,208.50 L388.00,208.50 L389.00,208.50 L390.00,208.50 L391.00,208.50 L392.00,208.50 L393.00,208.50 L394.00,208.50 L395.00,208.50 L396.00,208.50 L397.00,208.50 L398.00,208.50 L399.00,208.50 L400.00,208.50 L401.00,208.50 L402.00,208.50 L403.00,208.50 L404.00,208.50 L405.00,208.50 L406.00,208.50 L407.00,208.50 L408.00,208.50 L409.00,208.50 L410.00,208.50 L411.00,208.50 L412.00,208.50 L413.00,208.50 L414.00,208.50 L415.00,208.50 L416.00,208.50 L417.00,208.50 L418.00,208.50 L419.00,208.50 L420.00,208.50 L421.00,208.50 L422.00,208.50 L423.00,208.50 L424.00,208.50 L425.00,208.50 L426.00,208.50 L427.00,208.50 L428.00,208.50 L429.00,208.50 L430.00,208.50 L431.00,208.50 L432.00,208.50 L433.00,208.50 L434.00,208.50 L435.00,208.50 L436.00,208.50 L437.00,208.50 L438.00,208.50 L439.00,208.50 L440.00,208.50 L441.00,208.50 L442.00,208.50 L443.00,208.50 L444.00,208.50 L445.00,208.50 L446.00,208.50 L447.00,208.50 L448.00,208.50 L449.00,208.50 L450.00,208.50 L451.00,208.50 L452.00,208.50 L453.00,208.50 L454.00,208.50 L455.00,208.50 L456.00,208.50 L457.00,208.50 L458.00,208.50 L459.00,208.50 L460.00,208.50 L461.00,208.50 L462.00,208.49 L463.00,208.49 L464.00,208.49 L465.00,208.49 L466.00,208.48 L467.00,208.48 L468.00,208.47 L469.00,208.47 L470.00,208.46 L471.00,208.45 L472.00,208.44 L473.00,208.42 L474.00,208.41 L475.00,208.39 L476.00,208.36 L477.00,208.33 L478.00,208.29 L479.00,208.25 L480.00,208.20 L481.00,208.13 L482.00,208.06 L483.00,207.97 L484.00,207.87 L485.00,207.75 L486.00,207.61 L487.00,207.44 L488.00,207.25 L489.00,207.03 L490.00,206.78 L491.00,206.49 L492.00,206.16 L493.00,205.79 L494.00,205.36 L495.00,204.88 L496.00,204.33 L497.00,203.72 L498.00,203.04 L499.00,202.28 L500.00,201.44 L501.00,200.51 L502.00,199.48 L503.00,198.35 L504.00,197.12 L505.00,195.78 L506.00,194.32 L507.00,192.75 L508.00,191.06 L509.00,189.25 L510.00,187.32 L511.00,185.27 L512.00,183.10 L513.00,180.81 L514.00,178.42 L515.00,175.92 L516.00,173.32 L517.00,170.64 L518.00,167.88 L519.00,165.05 L520.00,162.18 L521.00,159.27 L522.00,156.34 L523.00,153.41 L524.00,150.50 L525.00,147.63 L526.00,144.82 L527.00,142.09 L528.00,139.46 L529.00,136.96 L530.00,134.59 L531.00,132.39 L532.00,130.37 L533.00,128.55 L534.00,126.95 L535.00,125.57 L536.00,124.44 L537.00,123.56 L538.00,122.94 L539.00,122.59 L540.00,122.51 L541.00,122.70 L542.00,123.15 L543.00,123.88 L544.00,124.86 L545.00,126.09 L546.00,127.56 L547.00,129.26 L548.00,131.16 L549.00,133.25 L550.00,135.52 L551.00,137.95 L552.00,140.50 L553.00,143.17 L554.00,145.94 L555.00,148.78 L556.00,151.66 L557.00,154.58 L558.00,157.51 L559.00,160.43 L560.00,163.33 L561.00,166.19 L562.00,168.99 L563.00,171.72 L564.00,174.37 L565.00,176.93 L566.00,179.39 L567.00,181.74 L568.00,183.98 L569.00,186.11 L570.00,188.11 L571.00,189.99 L572.00,191.75 L573.00,193.40 L574.00,194.92 L575.00,196.33 L576.00,197.63 L577.00,198.82 L578.00,199.90 L579.00,200.89 L580.00,201.79 L581.00,202.60 L582.00,203.32 L583.00,203.98 L584.00,204.56 L585.00,205.08 L586.00,205.54 L587.00,205.94 L588.00,206.30 L589.00,206.61 L590.00,206.89 L591.00,207.13 L592.00,207.33 L593.00,207.51 L594.00,207.67 L595.00,207.80 L596.00,207.91 L597.00,208.01 L598.00,208.09 L599.00,208.16 L600.00,208.22 L600.50,208.24 L600.50,208.50 Z" fill="url(#hatch)"/>
<path d="M346.00,205.02 L347.00,204.61 L348.00,204.16 L349.00,203.67 L350.00,203.14 L351.00,202.55 L352.00,201.92 L353.00,201.23 L354.00,200.48 L355.00,199.68 L356.00,198.81 L357.00,197.87 L358.00,196.86 L359.00,195.78 L360.00,194.63 L361.00,193.39 L362.00,192.08 L363.00,190.69 L364.00,189.21 L365.00,187.65 L366.00,186.00 L367.00,184.27 L368.00,182.45 L369.00,180.54 L370.00,178.55 L371.00,176.47 L372.00,174.31 L373.00,172.08 L374.00,169.76 L375.00,167.38 L376.00,164.93 L377.00,162.41 L378.00,159.84 L379.00,157.21 L380.00,154.55 L381.00,151.84 L382.00,149.11 L383.00,146.36 L384.00,143.60 L385.00,140.84 L386.00,138.09 L387.00,135.36 L388.00,132.67 L389.00,130.01 L390.00,127.41 L391.00,124.88 L392.00,122.42 L393.00,120.05 L394.00,117.78 L395.00,115.62 L396.00,113.57 L397.00,111.66 L398.00,109.90 L399.00,108.28 L400.00,106.81 L401.00,105.52 L402.00,104.39 L403.00,103.44 L404.00,102.68 L405.00,102.10 L406.00,101.72 L407.00,101.52 L408.00,101.52 L409.00,101.72 L410.00,102.10 L411.00,102.68 L412.00,103.44 L413.00,104.39 L414.00,105.52 L415.00,106.81 L416.00,108.28 L417.00,109.90 L418.00,111.66 L419.00,113.57 L420.00,115.62 L421.00,117.78 L422.00,120.05 L423.00,122.42 L424.00,124.88 L425.00,127.41 L426.00,130.01 L427.00,132.67 L428.00,135.36 L429.00,138.09 L430.00,140.84 L431.00,143.60 L432.00,146.36 L433.00,149.11 L434.00,151.84 L435.00,154.55 L436.00,157.21 L437.00,159.84 L438.00,162.41 L439.00,164.93 L440.00,167.38 L441.00,169.76 L442.00,172.08 L443.00,174.31 L444.00,176.47 L445.00,178.55 L446.00,180.54 L447.00,182.45 L448.00,184.27 L449.00,186.00 L450.00,187.65 L451.00,189.21 L452.00,190.69 L453.00,192.08 L454.00,193.39 L455.00,194.63 L456.00,195.78 L457.00,196.86 L458.00,197.87 L459.00,198.81 L460.00,199.68 L461.00,200.48 L462.00,201.23 L463.00,201.92 L464.00,202.55 L465.00,203.14 L466.00,203.67 L467.00,204.16 L468.00,204.61 L469.00,205.02 L470.00,205.39 L471.00,205.72 L472.00,206.03 L473.00,206.30 L474.00,206.55 L475.00,206.77 L476.00,206.97 L477.00,207.15 L478.00,207.31 L479.00,207.45 L480.00,207.58 L481.00,207.70 L482.00,207.80 L483.00,207.89 L484.00,207.97 L485.00,208.03 L486.00,208.10 L487.00,208.15 L488.00,208.20 L489.00,208.24 L490.00,208.27 L491.00,208.31 L492.00,208.33 L493.00,208.36 L494.00,208.38 L495.00,208.40 L496.00,208.41 L497.00,208.42 L498.00,208.44 L499.00,208.45 L500.00,208.45 L501.00,208.46 L502.00,208.47 L503.00,208.47 L504.00,208.48 L505.00,208.48 L506.00,208.48 L507.00,208.49 L508.00,208.49 L509.00,208.49 L510.00,208.49 L511.00,208.49 L512.00,208.49 L513.00,208.50 L514.00,208.50 L515.00,208.50 L516.00,208.50 L517.00,208.50 L518.00,208.50 L519.00,208.50 L520.00,208.50 L521.00,208.50 L522.00,208.50 L523.00,208.50 L524.00,208.50 L525.00,208.50 L526.00,208.50 L527.00,208.50 L528.00,208.50 L529.00,208.50 L530.00,208.50 L531.00,208.50 L532.00,208.50 L533.00,208.50 L534.00,208.50 L535.00,208.50 L536.00,208.50 L537.00,208.50 L538.00,208.50 L539.00,208.50 L540.00,208.50 L541.00,208.50 L542.00,208.50 L543.00,208.50 L544.00,208.50 L545.00,208.50 L546.00,208.50 L547.00,208.50 L548.00,208.50 L549.00,208.50 L550.00,208.50 L551.00,208.50 L552.00,208.50 L553.00,208.50 L554.00,208.50 L555.00,208.50 L556.00,208.50 L557.00,208.50 L558.00,208.50 L559.00,208.50 L560.00,208.50 L561.00,208.50 L562.00,208.50 L563.00,208.50 L564.00,208.50 L565.00,208.50 L566.00,208.50 L567.00,208.50 L568.00,208.50 L569.00,208.50 L570.00,208.50 L571.00,208.50 L572.00,208.50 L573.00,208.50 L574.00,208.50 L575.00,208.50 L576.00,208.50 L577.00,208.50 L578.00,208.50 L579.00,208.50 L580.00,208.50 L581.00,208.50 L582.00,208.50 L583.00,208.50 L584.00,208.50 L585.00,208.50 L586.00,208.50 L587.00,208.50 L588.00,208.50 L589.00,208.50 L590.00,208.50 L591.00,208.50 L592.00,208.50 L593.00,208.50 L594.00,208.50 L595.00,208.50 L596.00,208.50 L597.00,208.50 L598.00,208.50 L599.00,208.50 L600.00,208.50 L600.50,208.50" fill="none" stroke="#000" stroke-width="1.7" stroke-linejoin="round"/>
<path d="M346.00,208.50 L347.00,208.50 L348.00,208.50 L349.00,208.50 L350.00,208.50 L351.00,208.50 L352.00,208.50 L353.00,208.50 L354.00,208.50 L355.00,208.50 L356.00,208.50 L357.00,208.50 L358.00,208.50 L359.00,208.49 L360.00,208.49 L361.00,208.49 L362.00,208.49 L363.00,208.49 L364.00,208.49 L365.00,208.49 L366.00,208.49 L367.00,208.48 L368.00,208.48 L369.00,208.48 L370.00,208.48 L371.00,208.47 L372.00,208.47 L373.00,208.46 L374.00,208.46 L375.00,208.45 L376.00,208.45 L377.00,208.44 L378.00,208.43 L379.00,208.42 L380.00,208.41 L381.00,208.40 L382.00,208.39 L383.00,208.37 L384.00,208.35 L385.00,208.34 L386.00,208.31 L387.00,208.29 L388.00,208.27 L389.00,208.24 L390.00,208.20 L391.00,208.17 L392.00,208.13 L393.00,208.08 L394.00,208.04 L395.00,207.98 L396.00,207.92 L397.00,207.85 L398.00,207.78 L399.00,207.70 L400.00,207.61 L401.00,207.52 L402.00,207.41 L403.00,207.29 L404.00,207.16 L405.00,207.02 L406.00,206.87 L407.00,206.70 L408.00,206.52 L409.00,206.32 L410.00,206.10 L411.00,205.87 L412.00,205.61 L413.00,205.34 L414.00,205.04 L415.00,204.71 L416.00,204.36 L417.00,203.98 L418.00,203.58 L419.00,203.14 L420.00,202.67 L421.00,202.16 L422.00,201.62 L423.00,201.04 L424.00,200.41 L425.00,199.75 L426.00,199.04 L427.00,198.28 L428.00,197.47 L429.00,196.61 L430.00,195.70 L431.00,194.74 L432.00,193.71 L433.00,192.63 L434.00,191.48 L435.00,190.27 L436.00,189.00 L437.00,187.65 L438.00,186.24 L439.00,184.76 L440.00,183.20 L441.00,181.57 L442.00,179.86 L443.00,178.08 L444.00,176.22 L445.00,174.29 L446.00,172.27 L447.00,170.18 L448.00,168.01 L449.00,165.75 L450.00,163.42 L451.00,161.02 L452.00,158.53 L453.00,155.97 L454.00,153.34 L455.00,150.64 L456.00,147.86 L457.00,145.02 L458.00,142.12 L459.00,139.15 L460.00,136.13 L461.00,133.05 L462.00,129.93 L463.00,126.76 L464.00,123.55 L465.00,120.31 L466.00,117.04 L467.00,113.74 L468.00,110.43 L469.00,107.11 L470.00,103.79 L471.00,100.47 L472.00,97.16 L473.00,93.87 L474.00,90.60 L475.00,87.37 L476.00,84.17 L477.00,81.03 L478.00,77.94 L479.00,74.92 L480.00,71.97 L481.00,69.10 L482.00,66.31 L483.00,63.63 L484.00,61.04 L485.00,58.56 L486.00,56.21 L487.00,53.97 L488.00,51.87 L489.00,49.90 L490.00,48.07 L491.00,46.39 L492.00,44.87 L493.00,43.50 L494.00,42.29 L495.00,41.25 L496.00,40.38 L497.00,39.68 L498.00,39.15 L499.00,38.80 L500.00,38.62 L501.00,38.62 L502.00,38.80 L503.00,39.15 L504.00,39.68 L505.00,40.38 L506.00,41.25 L507.00,42.29 L508.00,43.50 L509.00,44.87 L510.00,46.39 L511.00,48.07 L512.00,49.90 L513.00,51.87 L514.00,53.97 L515.00,56.21 L516.00,58.56 L517.00,61.04 L518.00,63.63 L519.00,66.31 L520.00,69.10 L521.00,71.97 L522.00,74.92 L523.00,77.94 L524.00,81.03 L525.00,84.17 L526.00,87.37 L527.00,90.60 L528.00,93.87 L529.00,97.16 L530.00,100.47 L531.00,103.79 L532.00,107.11 L533.00,110.43 L534.00,113.74 L535.00,117.04 L536.00,120.31 L537.00,123.55 L538.00,126.76 L539.00,129.93 L540.00,133.05 L541.00,136.13 L542.00,139.15 L543.00,142.12 L544.00,145.02 L545.00,147.86 L546.00,150.64 L547.00,153.34 L548.00,155.97 L549.00,158.53 L550.00,161.02 L551.00,163.42 L552.00,165.75 L553.00,168.01 L554.00,170.18 L555.00,172.27 L556.00,174.29 L557.00,176.22 L558.00,178.08 L559.00,179.86 L560.00,181.57 L561.00,183.20 L562.00,184.76 L563.00,186.24 L564.00,187.65 L565.00,189.00 L566.00,190.27 L567.00,191.48 L568.00,192.63 L569.00,193.71 L570.00,194.74 L571.00,195.70 L572.00,196.61 L573.00,197.47 L574.00,198.28 L575.00,199.04 L576.00,199.75 L577.00,200.41 L578.00,201.04 L579.00,201.62 L580.00,202.16 L581.00,202.67 L582.00,203.14 L583.00,203.58 L584.00,203.98 L585.00,204.36 L586.00,204.71 L587.00,205.04 L588.00,205.34 L589.00,205.61 L590.00,205.87 L591.00,206.10 L592.00,206.32 L593.00,206.52 L594.00,206.70 L595.00,206.87 L596.00,207.02 L597.00,207.16 L598.00,207.29 L599.00,207.41 L600.00,207.52 L600.50,207.57" fill="none" stroke="#000" stroke-width="1.7" stroke-linejoin="round"/>
<path d="M346.00,208.50 L347.00,208.50 L348.00,208.50 L349.00,208.50 L350.00,208.50 L351.00,208.50 L352.00,208.50 L353.00,208.50 L354.00,208.50 L355.00,208.50 L356.00,208.50 L357.00,208.50 L358.00,208.50 L359.00,208.50 L360.00,208.50 L361.00,208.50 L362.00,208.50 L363.00,208.50 L364.00,208.50 L365.00,208.50 L366.00,208.50 L367.00,208.50 L368.00,208.50 L369.00,208.50 L370.00,208.50 L371.00,208.50 L372.00,208.50 L373.00,208.50 L374.00,208.50 L375.00,208.50 L376.00,208.50 L377.00,208.50 L378.00,208.50 L379.00,208.50 L380.00,208.50 L381.00,208.50 L382.00,208.50 L383.00,208.50 L384.00,208.50 L385.00,208.50 L386.00,208.50 L387.00,208.50 L388.00,208.50 L389.00,208.50 L390.00,208.50 L391.00,208.50 L392.00,208.50 L393.00,208.50 L394.00,208.50 L395.00,208.50 L396.00,208.50 L397.00,208.50 L398.00,208.50 L399.00,208.50 L400.00,208.50 L401.00,208.50 L402.00,208.50 L403.00,208.50 L404.00,208.50 L405.00,208.50 L406.00,208.50 L407.00,208.50 L408.00,208.50 L409.00,208.50 L410.00,208.50 L411.00,208.50 L412.00,208.50 L413.00,208.50 L414.00,208.50 L415.00,208.50 L416.00,208.50 L417.00,208.50 L418.00,208.50 L419.00,208.50 L420.00,208.50 L421.00,208.50 L422.00,208.50 L423.00,208.50 L424.00,208.50 L425.00,208.50 L426.00,208.50 L427.00,208.50 L428.00,208.50 L429.00,208.50 L430.00,208.50 L431.00,208.50 L432.00,208.50 L433.00,208.50 L434.00,208.50 L435.00,208.50 L436.00,208.50 L437.00,208.50 L438.00,208.50 L439.00,208.50 L440.00,208.50 L441.00,208.50 L442.00,208.50 L443.00,208.50 L444.00,208.50 L445.00,208.50 L446.00,208.50 L447.00,208.50 L448.00,208.50 L449.00,208.50 L450.00,208.50 L451.00,208.50 L452.00,208.50 L453.00,208.50 L454.00,208.50 L455.00,208.50 L456.00,208.50 L457.00,208.50 L458.00,208.50 L459.00,208.50 L460.00,208.50 L461.00,208.50 L462.00,208.49 L463.00,208.49 L464.00,208.49 L465.00,208.49 L466.00,208.48 L467.00,208.48 L468.00,208.47 L469.00,208.47 L470.00,208.46 L471.00,208.45 L472.00,208.44 L473.00,208.42 L474.00,208.41 L475.00,208.39 L476.00,208.36 L477.00,208.33 L478.00,208.29 L479.00,208.25 L480.00,208.20 L481.00,208.13 L482.00,208.06 L483.00,207.97 L484.00,207.87 L485.00,207.75 L486.00,207.61 L487.00,207.44 L488.00,207.25 L489.00,207.03 L490.00,206.78 L491.00,206.49 L492.00,206.16 L493.00,205.79 L494.00,205.36 L495.00,204.88 L496.00,204.33 L497.00,203.72 L498.00,203.04 L499.00,202.28 L500.00,201.44 L501.00,200.51 L502.00,199.48 L503.00,198.35 L504.00,197.12 L505.00,195.78 L506.00,194.32 L507.00,192.75 L508.00,191.06 L509.00,189.25 L510.00,187.32 L511.00,185.27 L512.00,183.10 L513.00,180.81 L514.00,178.42 L515.00,175.92 L516.00,173.32 L517.00,170.64 L518.00,167.88 L519.00,165.05 L520.00,162.18 L521.00,159.27 L522.00,156.34 L523.00,153.41 L524.00,150.50 L525.00,147.63 L526.00,144.82 L527.00,142.09 L528.00,139.46 L529.00,136.96 L530.00,134.59 L531.00,132.39 L532.00,130.37 L533.00,128.55 L534.00,126.95 L535.00,125.57 L536.00,124.44 L537.00,123.56 L538.00,122.94 L539.00,122.59 L540.00,122.51 L541.00,122.70 L542.00,123.15 L543.00,123.88 L544.00,124.86 L545.00,126.09 L546.00,127.56 L547.00,129.26 L548.00,131.16 L549.00,133.25 L550.00,135.52 L551.00,137.95 L552.00,140.50 L553.00,143.17 L554.00,145.94 L555.00,148.78 L556.00,151.66 L557.00,154.58 L558.00,157.51 L559.00,160.43 L560.00,163.33 L561.00,166.19 L562.00,168.99 L563.00,171.72 L564.00,174.37 L565.00,176.93 L566.00,179.39 L567.00,181.74 L568.00,183.98 L569.00,186.11 L570.00,188.11 L571.00,189.99 L572.00,191.75 L573.00,193.40 L574.00,194.92 L575.00,196.33 L576.00,197.63 L577.00,198.82 L578.00,199.90 L579.00,200.89 L580.00,201.79 L581.00,202.60 L582.00,203.32 L583.00,203.98 L584.00,204.56 L585.00,205.08 L586.00,205.54 L587.00,205.94 L588.00,206.30 L589.00,206.61 L590.00,206.89 L591.00,207.13 L592.00,207.33 L593.00,207.51 L594.00,207.67 L595.00,207.80 L596.00,207.91 L597.00,208.01 L598.00,208.09 L599.00,208.16 L600.00,208.22 L600.50,208.24" fill="none" stroke="#000" stroke-width="1.7" stroke-linejoin="round"/>
<path d="M346.00,205.40 C347.53,204.12 352.38,200.52 355.20,197.70 C358.02,194.88 360.58,191.58 362.90,188.50 C365.22,185.42 367.05,183.05 369.10,179.20 C371.15,175.35 373.15,170.27 375.20,165.40 C377.25,160.53 379.35,155.38 381.40,150.00 C383.45,144.62 385.45,138.48 387.50,133.10 C389.55,127.72 391.65,122.32 393.70,117.70 C395.75,113.08 398.08,108.10 399.80,105.40 C401.52,102.70 402.50,102.25 404.00,101.50 C405.50,100.75 407.02,100.63 408.80,100.90 C410.58,101.17 412.48,101.13 414.70,103.10 C416.92,105.07 419.63,109.13 422.10,112.70 C424.57,116.27 427.03,120.82 429.50,124.50 C431.97,128.18 434.45,131.60 436.90,134.80 C439.35,138.00 441.75,142.83 444.20,143.70 C446.65,144.57 449.13,142.72 451.60,140.00 C454.07,137.28 456.78,131.77 459.00,127.40 C461.22,123.03 463.07,118.28 464.90,113.80 C466.73,109.32 468.48,104.47 470.00,100.50 C471.52,96.53 472.23,94.90 474.00,90.00 C475.77,85.10 478.38,77.12 480.60,71.10 C482.82,65.08 485.08,59.22 487.30,53.90 C489.52,48.58 491.68,43.20 493.90,39.20 C496.12,35.20 498.17,32.55 500.60,29.90 C503.03,27.25 506.07,24.85 508.50,23.30 C510.93,21.75 513.20,21.15 515.20,20.60 C517.20,20.05 518.73,19.88 520.50,20.00 C522.27,20.12 524.03,20.30 525.80,21.30 C527.57,22.30 529.33,23.45 531.10,26.00 C532.87,28.55 534.62,32.18 536.40,36.60 C538.18,41.02 540.13,46.85 541.80,52.50 C543.47,58.15 544.83,64.12 546.40,70.50 C547.97,76.88 549.77,84.53 551.20,90.80 C552.63,97.07 553.73,102.33 555.00,108.10 C556.27,113.87 557.52,119.63 558.80,125.40 C560.08,131.17 561.25,136.93 562.70,142.70 C564.15,148.47 565.90,154.55 567.50,160.00 C569.10,165.45 570.53,170.60 572.30,175.40 C574.07,180.20 575.85,184.80 578.10,188.80 C580.35,192.80 583.23,196.67 585.80,199.40 C588.37,202.13 591.05,203.80 593.50,205.20 C595.95,206.60 599.33,207.37 600.50,207.80" fill="none" stroke="#ff0000" stroke-width="1.8" stroke-linejoin="round"/>
</g>
<line x1="346.10" y1="2.00" x2="346.10" y2="208.50" stroke="#929292" stroke-width="1.1"/>
<line x1="600.60" y1="2.00" x2="600.60" y2="208.50" stroke="#858585" stroke-width="1.4"/>
<line x1="346.10" y1="2.00" x2="600.60" y2="2.00" stroke="#707070" stroke-width="1.4" stroke-linecap="square"/>
<line x1="345.60" y1="208.70" x2="601.10" y2="208.70" stroke="#1a1a1a" stroke-width="1.3"/>
<line x1="491.30" y1="208.50" x2="491.30" y2="212.00" stroke="#333" stroke-width="0.8"/>
<text class="tk" style="font-size:9px" x="482.90" y="221.50" textLength="17.3" lengthAdjust="spacingAndGlyphs">1400</text>
<text class="ax" font-size="15.8" text-anchor="middle" transform="translate(326.70,109.90) rotate(-90)">Absorbance (a.u.)</text>
<text class="ax" font-size="15.2" x="407.00" y="246.70" letter-spacing="0.42">Wavenumber (cm<tspan font-size="9" dy="-6.5">-1</tspan><tspan dy="6.5">)</tspan></text>
<text class="lab" style="font-size:16.5px" stroke="#111" stroke-width="0.3" x="349.40" y="19.40" textLength="19.00" lengthAdjust="spacingAndGlyphs">(b)</text>
<text class="ann" x="371.80" y="33.90">Free ion (1403 cm<tspan font-size="8" dy="-5">-1</tspan><tspan dy="5">)</tspan></text>
<text class="ann" x="542.70" y="29.90">Contact ion</text>
<text class="ann" x="542.70" y="47.40">(1419 cm<tspan font-size="8" dy="-5">-1</tspan><tspan dy="5">)</tspan></text>
<text class="ann" x="350.80" y="73.00">Contact ion (1365 cm<tspan font-size="8" dy="-5">-1</tspan><tspan dy="5">)</tspan></text>
<text class="tk" style="font-size:9px" x="405.80" y="104.40">1364.5</text>
<text class="tk" style="font-size:9px" x="515.30" y="16.70">1409.5</text>
<line x1="470.90" y1="35.20" x2="495.00" y2="38.80" stroke="#444" stroke-width="0.75" stroke-dasharray="2,1.5" marker-end="url(#ah)"/>
<line x1="558.80" y1="56.00" x2="542.50" y2="118.00" stroke="#444" stroke-width="0.75" stroke-dasharray="2,1.5" marker-end="url(#ah)"/>
<line x1="380.60" y1="76.40" x2="402.00" y2="100.40" stroke="#444" stroke-width="0.75" marker-end="url(#ah)"/>
<line x1="515.30" y1="11.00" x2="515.30" y2="18.70" stroke="#ff8080" stroke-width="0.9"/>
<line x1="444.90" y1="136.00" x2="444.90" y2="143.00" stroke="#ff66ff" stroke-width="0.9"/>
<clipPath id="clip_c"><rect x="32.30" y="264.50" width="254.40" height="208.10"/></clipPath>
<g clip-path="url(#clip_c)">
<path d="M32.30,470.60 L32.30,469.89 L33.30,469.84 L34.30,469.78 L35.30,469.72 L36.30,469.66 L37.30,469.59 L38.30,469.51 L39.30,469.44 L40.30,469.35 L41.30,469.27 L42.30,469.17 L43.30,469.08 L44.30,468.97 L45.30,468.86 L46.30,468.74 L47.30,468.62 L48.30,468.49 L49.30,468.35 L50.30,468.20 L51.30,468.05 L52.30,467.88 L53.30,467.71 L54.30,467.53 L55.30,467.34 L56.30,467.13 L57.30,466.92 L58.30,466.70 L59.30,466.46 L60.30,466.21 L61.30,465.95 L62.30,465.68 L63.30,465.39 L64.30,465.09 L65.30,464.77 L66.30,464.44 L67.30,464.10 L68.30,463.74 L69.30,463.36 L70.30,462.96 L71.30,462.55 L72.30,462.12 L73.30,461.67 L74.30,461.20 L75.30,460.72 L76.30,460.21 L77.30,459.68 L78.30,459.13 L79.30,458.56 L80.30,457.97 L81.30,457.35 L82.30,456.71 L83.30,456.05 L84.30,455.36 L85.30,454.65 L86.30,453.92 L87.30,453.16 L88.30,452.38 L89.30,451.56 L90.30,450.73 L91.30,449.86 L92.30,448.97 L93.30,448.06 L94.30,447.11 L95.30,446.14 L96.30,445.15 L97.30,444.12 L98.30,443.07 L99.30,441.99 L100.30,440.88 L101.30,439.75 L102.30,438.58 L103.30,437.40 L104.30,436.18 L105.30,434.94 L106.30,433.67 L107.30,432.38 L108.30,431.06 L109.30,429.71 L110.30,428.34 L111.30,426.95 L112.30,425.53 L113.30,424.10 L114.30,422.64 L115.30,421.16 L116.30,419.66 L117.30,418.14 L118.30,416.60 L119.30,415.04 L120.30,413.47 L121.30,411.89 L122.30,410.29 L123.30,408.68 L124.30,407.06 L125.30,405.43 L126.30,403.79 L127.30,402.14 L128.30,400.49 L129.30,398.83 L130.30,397.18 L131.30,395.52 L132.30,393.86 L133.30,392.21 L134.30,390.56 L135.30,388.92 L136.30,387.29 L137.30,385.67 L138.30,384.06 L139.30,382.46 L140.30,380.88 L141.30,379.32 L142.30,377.77 L143.30,376.25 L144.30,374.75 L145.30,373.28 L146.30,371.83 L147.30,370.42 L148.30,369.03 L149.30,367.68 L150.30,366.36 L151.30,365.08 L152.30,363.84 L153.30,362.63 L154.30,361.47 L155.30,360.35 L156.30,359.28 L157.30,358.25 L158.30,357.27 L159.30,356.34 L160.30,355.46 L161.30,354.63 L162.30,353.85 L163.30,353.13 L164.30,352.46 L165.30,351.85 L166.30,351.30 L167.30,350.81 L168.30,350.37 L169.30,349.99 L170.30,349.68 L171.30,349.42 L172.30,349.22 L173.30,349.09 L174.30,349.02 L175.30,349.00 L176.30,349.05 L177.30,349.16 L178.30,349.33 L179.30,349.57 L180.30,349.86 L181.30,350.21 L182.30,350.63 L183.30,351.10 L184.30,351.63 L185.30,352.21 L186.30,352.86 L187.30,353.56 L188.30,354.31 L189.30,355.12 L190.30,355.98 L191.30,356.89 L192.30,357.85 L193.30,358.86 L194.30,359.92 L195.30,361.02 L196.30,362.16 L197.30,363.35 L198.30,364.58 L199.30,365.84 L200.30,367.15 L201.30,368.49 L202.30,369.86 L203.30,371.26 L204.30,372.70 L205.30,374.16 L206.30,375.65 L207.30,377.16 L208.30,378.70 L209.30,380.25 L210.30,381.82 L211.30,383.42 L212.30,385.02 L213.30,386.64 L214.30,388.27 L215.30,389.91 L216.30,391.55 L217.30,393.20 L218.30,394.86 L219.30,396.51 L220.30,398.17 L221.30,399.83 L222.30,401.48 L223.30,403.13 L224.30,404.77 L225.30,406.41 L226.30,408.03 L227.30,409.65 L228.30,411.25 L229.30,412.84 L230.30,414.42 L231.30,415.98 L232.30,417.52 L233.30,419.05 L234.30,420.56 L235.30,422.05 L236.30,423.52 L237.30,424.96 L238.30,426.39 L239.30,427.79 L240.30,429.17 L241.30,430.52 L242.30,431.85 L243.30,433.15 L244.30,434.43 L245.30,435.69 L246.30,436.91 L247.30,438.11 L248.30,439.28 L249.30,440.43 L250.30,441.55 L251.30,442.64 L252.30,443.70 L253.30,444.74 L254.30,445.75 L255.30,446.73 L256.30,447.68 L257.30,448.61 L258.30,449.51 L259.30,450.39 L260.30,451.23 L261.30,452.05 L262.30,452.85 L263.30,453.62 L264.30,454.36 L265.30,455.08 L266.30,455.78 L267.30,456.45 L268.30,457.10 L269.30,457.72 L270.30,458.32 L271.30,458.90 L272.30,459.46 L273.30,460.00 L274.30,460.52 L275.30,461.01 L276.30,461.49 L277.30,461.94 L278.30,462.38 L279.30,462.80 L280.30,463.20 L281.30,463.59 L282.30,463.96 L283.30,464.31 L284.30,464.64 L285.30,464.97 L286.30,465.27 L286.70,465.39 L286.70,470.60 Z" fill="#cfcfcf"/>
<path d="M32.30,470.60 L32.30,464.95 L33.30,464.48 L34.30,463.97 L35.30,463.44 L36.30,462.87 L37.30,462.27 L38.30,461.63 L39.30,460.95 L40.30,460.24 L41.30,459.49 L42.30,458.69 L43.30,457.86 L44.30,456.98 L45.30,456.06 L46.30,455.10 L47.30,454.10 L48.30,453.05 L49.30,451.96 L50.30,450.83 L51.30,449.65 L52.30,448.43 L53.30,447.16 L54.30,445.86 L55.30,444.52 L56.30,443.13 L57.30,441.71 L58.30,440.25 L59.30,438.76 L60.30,437.23 L61.30,435.68 L62.30,434.09 L63.30,432.49 L64.30,430.86 L65.30,429.21 L66.30,427.55 L67.30,425.87 L68.30,424.19 L69.30,422.50 L70.30,420.82 L71.30,419.13 L72.30,417.46 L73.30,415.80 L74.30,414.15 L75.30,412.53 L76.30,410.94 L77.30,409.38 L78.30,407.85 L79.30,406.36 L80.30,404.92 L81.30,403.54 L82.30,402.20 L83.30,400.93 L84.30,399.72 L85.30,398.57 L86.30,397.50 L87.30,396.50 L88.30,395.59 L89.30,394.75 L90.30,394.00 L91.30,393.34 L92.30,392.76 L93.30,392.28 L94.30,391.90 L95.30,391.60 L96.30,391.41 L97.30,391.31 L98.30,391.31 L99.30,391.41 L100.30,391.60 L101.30,391.90 L102.30,392.28 L103.30,392.76 L104.30,393.34 L105.30,394.00 L106.30,394.75 L107.30,395.59 L108.30,396.50 L109.30,397.50 L110.30,398.57 L111.30,399.72 L112.30,400.93 L113.30,402.20 L114.30,403.54 L115.30,404.92 L116.30,406.36 L117.30,407.85 L118.30,409.38 L119.30,410.94 L120.30,412.53 L121.30,414.15 L122.30,415.80 L123.30,417.46 L124.30,419.13 L125.30,420.82 L126.30,422.50 L127.30,424.19 L128.30,425.87 L129.30,427.55 L130.30,429.21 L131.30,430.86 L132.30,432.49 L133.30,434.09 L134.30,435.68 L135.30,437.23 L136.30,438.76 L137.30,440.25 L138.30,441.71 L139.30,443.13 L140.30,444.52 L141.30,445.86 L142.30,447.16 L143.30,448.43 L144.30,449.65 L145.30,450.83 L146.30,451.96 L147.30,453.05 L148.30,454.10 L149.30,455.10 L150.30,456.06 L151.30,456.98 L152.30,457.86 L153.30,458.69 L154.30,459.49 L155.30,460.24 L156.30,460.95 L157.30,461.63 L158.30,462.27 L159.30,462.87 L160.30,463.44 L161.30,463.97 L162.30,464.48 L163.30,464.95 L164.30,465.39 L165.30,465.80 L166.30,466.19 L167.30,466.55 L168.30,466.88 L169.30,467.19 L170.30,467.48 L171.30,467.75 L172.30,468.00 L173.30,468.23 L174.30,468.44 L175.30,468.63 L176.30,468.81 L177.30,468.98 L178.30,469.13 L179.30,469.27 L180.30,469.40 L181.30,469.52 L182.30,469.62 L183.30,469.72 L184.30,469.81 L185.30,469.89 L186.30,469.96 L187.30,470.03 L188.30,470.09 L189.30,470.14 L190.30,470.19 L191.30,470.24 L192.30,470.28 L193.30,470.31 L194.30,470.34 L195.30,470.37 L196.30,470.40 L197.30,470.42 L198.30,470.44 L199.30,470.46 L200.30,470.48 L201.30,470.49 L202.30,470.50 L203.30,470.52 L204.30,470.53 L205.30,470.54 L206.30,470.54 L207.30,470.55 L208.30,470.56 L209.30,470.56 L210.30,470.57 L211.30,470.57 L212.30,470.58 L213.30,470.58 L214.30,470.58 L215.30,470.58 L216.30,470.59 L217.30,470.59 L218.30,470.59 L219.30,470.59 L220.30,470.59 L221.30,470.59 L222.30,470.59 L223.30,470.60 L224.30,470.60 L225.30,470.60 L226.30,470.60 L227.30,470.60 L228.30,470.60 L229.30,470.60 L230.30,470.60 L231.30,470.60 L232.30,470.60 L233.30,470.60 L234.30,470.60 L235.30,470.60 L236.30,470.60 L237.30,470.60 L238.30,470.60 L239.30,470.60 L240.30,470.60 L241.30,470.60 L242.30,470.60 L243.30,470.60 L244.30,470.60 L245.30,470.60 L246.30,470.60 L247.30,470.60 L248.30,470.60 L249.30,470.60 L250.30,470.60 L251.30,470.60 L252.30,470.60 L253.30,470.60 L254.30,470.60 L255.30,470.60 L256.30,470.60 L257.30,470.60 L258.30,470.60 L259.30,470.60 L260.30,470.60 L261.30,470.60 L262.30,470.60 L263.30,470.60 L264.30,470.60 L265.30,470.60 L266.30,470.60 L267.30,470.60 L268.30,470.60 L269.30,470.60 L270.30,470.60 L271.30,470.60 L272.30,470.60 L273.30,470.60 L274.30,470.60 L275.30,470.60 L276.30,470.60 L277.30,470.60 L278.30,470.60 L279.30,470.60 L280.30,470.60 L281.30,470.60 L282.30,470.60 L283.30,470.60 L284.30,470.60 L285.30,470.60 L286.30,470.60 L286.70,470.60 L286.70,470.60 Z" fill="url(#hatch)"/>
<path d="M32.30,470.60 L32.30,470.60 L33.30,470.60 L34.30,470.60 L35.30,470.60 L36.30,470.60 L37.30,470.60 L38.30,470.60 L39.30,470.60 L40.30,470.60 L41.30,470.60 L42.30,470.60 L43.30,470.60 L44.30,470.60 L45.30,470.60 L46.30,470.60 L47.30,470.60 L48.30,470.60 L49.30,470.60 L50.30,470.60 L51.30,470.60 L52.30,470.60 L53.30,470.60 L54.30,470.60 L55.30,470.60 L56.30,470.60 L57.30,470.60 L58.30,470.60 L59.30,470.60 L60.30,470.60 L61.30,470.60 L62.30,470.60 L63.30,470.60 L64.30,470.60 L65.30,470.60 L66.30,470.60 L67.30,470.60 L68.30,470.60 L69.30,470.60 L70.30,470.60 L71.30,470.60 L72.30,470.60 L73.30,470.60 L74.30,470.60 L75.30,470.60 L76.30,470.60 L77.30,470.60 L78.30,470.60 L79.30,470.60 L80.30,470.60 L81.30,470.60 L82.30,470.60 L83.30,470.60 L84.30,470.60 L85.30,470.60 L86.30,470.60 L87.30,470.60 L88.30,470.60 L89.30,470.60 L90.30,470.60 L91.30,470.60 L92.30,470.60 L93.30,470.60 L94.30,470.60 L95.30,470.60 L96.30,470.60 L97.30,470.60 L98.30,470.60 L99.30,470.60 L100.30,470.60 L101.30,470.60 L102.30,470.59 L103.30,470.59 L104.30,470.59 L105.30,470.59 L106.30,470.59 L107.30,470.59 L108.30,470.58 L109.30,470.58 L110.30,470.58 L111.30,470.57 L112.30,470.57 L113.30,470.56 L114.30,470.56 L115.30,470.55 L116.30,470.54 L117.30,470.53 L118.30,470.52 L119.30,470.50 L120.30,470.49 L121.30,470.47 L122.30,470.45 L123.30,470.42 L124.30,470.40 L125.30,470.37 L126.30,470.33 L127.30,470.29 L128.30,470.25 L129.30,470.20 L130.30,470.14 L131.30,470.07 L132.30,470.00 L133.30,469.92 L134.30,469.83 L135.30,469.73 L136.30,469.62 L137.30,469.49 L138.30,469.35 L139.30,469.20 L140.30,469.03 L141.30,468.85 L142.30,468.65 L143.30,468.42 L144.30,468.18 L145.30,467.91 L146.30,467.62 L147.30,467.31 L148.30,466.96 L149.30,466.59 L150.30,466.19 L151.30,465.76 L152.30,465.30 L153.30,464.80 L154.30,464.27 L155.30,463.70 L156.30,463.10 L157.30,462.46 L158.30,461.78 L159.30,461.06 L160.30,460.30 L161.30,459.50 L162.30,458.66 L163.30,457.78 L164.30,456.86 L165.30,455.91 L166.30,454.92 L167.30,453.89 L168.30,452.82 L169.30,451.73 L170.30,450.60 L171.30,449.45 L172.30,448.27 L173.30,447.07 L174.30,445.85 L175.30,444.61 L176.30,443.37 L177.30,442.11 L178.30,440.86 L179.30,439.61 L180.30,438.36 L181.30,437.13 L182.30,435.91 L183.30,434.72 L184.30,433.56 L185.30,432.42 L186.30,431.33 L187.30,430.28 L188.30,429.28 L189.30,428.33 L190.30,427.44 L191.30,426.62 L192.30,425.86 L193.30,425.17 L194.30,424.56 L195.30,424.03 L196.30,423.57 L197.30,423.21 L198.30,422.92 L199.30,422.73 L200.30,422.62 L201.30,422.60 L202.30,422.68 L203.30,422.84 L204.30,423.08 L205.30,423.42 L206.30,423.84 L207.30,424.34 L208.30,424.92 L209.30,425.58 L210.30,426.31 L211.30,427.10 L212.30,427.97 L213.30,428.89 L214.30,429.87 L215.30,430.90 L216.30,431.98 L217.30,433.10 L218.30,434.25 L219.30,435.43 L220.30,436.64 L221.30,437.87 L222.30,439.11 L223.30,440.36 L224.30,441.61 L225.30,442.87 L226.30,444.11 L227.30,445.35 L228.30,446.58 L229.30,447.79 L230.30,448.98 L231.30,450.14 L232.30,451.28 L233.30,452.39 L234.30,453.47 L235.30,454.51 L236.30,455.52 L237.30,456.49 L238.30,457.42 L239.30,458.31 L240.30,459.17 L241.30,459.98 L242.30,460.76 L243.30,461.49 L244.30,462.19 L245.30,462.85 L246.30,463.47 L247.30,464.05 L248.30,464.59 L249.30,465.10 L250.30,465.58 L251.30,466.02 L252.30,466.44 L253.30,466.82 L254.30,467.17 L255.30,467.50 L256.30,467.80 L257.30,468.07 L258.30,468.33 L259.30,468.56 L260.30,468.77 L261.30,468.96 L262.30,469.14 L263.30,469.30 L264.30,469.44 L265.30,469.57 L266.30,469.69 L267.30,469.79 L268.30,469.89 L269.30,469.97 L270.30,470.05 L271.30,470.11 L272.30,470.17 L273.30,470.23 L274.30,470.27 L275.30,470.32 L276.30,470.35 L277.30,470.38 L278.30,470.41 L279.30,470.44 L280.30,470.46 L281.30,470.48 L282.30,470.50 L283.30,470.51 L284.30,470.52 L285.30,470.53 L286.30,470.54 L286.70,470.55 L286.70,470.60 Z" fill="url(#hatch)"/>
<path d="M32.30,464.95 L33.30,464.48 L34.30,463.97 L35.30,463.44 L36.30,462.87 L37.30,462.27 L38.30,461.63 L39.30,460.95 L40.30,460.24 L41.30,459.49 L42.30,458.69 L43.30,457.86 L44.30,456.98 L45.30,456.06 L46.30,455.10 L47.30,454.10 L48.30,453.05 L49.30,451.96 L50.30,450.83 L51.30,449.65 L52.30,448.43 L53.30,447.16 L54.30,445.86 L55.30,444.52 L56.30,443.13 L57.30,441.71 L58.30,440.25 L59.30,438.76 L60.30,437.23 L61.30,435.68 L62.30,434.09 L63.30,432.49 L64.30,430.86 L65.30,429.21 L66.30,427.55 L67.30,425.87 L68.30,424.19 L69.30,422.50 L70.30,420.82 L71.30,419.13 L72.30,417.46 L73.30,415.80 L74.30,414.15 L75.30,412.53 L76.30,410.94 L77.30,409.38 L78.30,407.85 L79.30,406.36 L80.30,404.92 L81.30,403.54 L82.30,402.20 L83.30,400.93 L84.30,399.72 L85.30,398.57 L86.30,397.50 L87.30,396.50 L88.30,395.59 L89.30,394.75 L90.30,394.00 L91.30,393.34 L92.30,392.76 L93.30,392.28 L94.30,391.90 L95.30,391.60 L96.30,391.41 L97.30,391.31 L98.30,391.31 L99.30,391.41 L100.30,391.60 L101.30,391.90 L102.30,392.28 L103.30,392.76 L104.30,393.34 L105.30,394.00 L106.30,394.75 L107.30,395.59 L108.30,396.50 L109.30,397.50 L110.30,398.57 L111.30,399.72 L112.30,400.93 L113.30,402.20 L114.30,403.54 L115.30,404.92 L116.30,406.36 L117.30,407.85 L118.30,409.38 L119.30,410.94 L120.30,412.53 L121.30,414.15 L122.30,415.80 L123.30,417.46 L124.30,419.13 L125.30,420.82 L126.30,422.50 L127.30,424.19 L128.30,425.87 L129.30,427.55 L130.30,429.21 L131.30,430.86 L132.30,432.49 L133.30,434.09 L134.30,435.68 L135.30,437.23 L136.30,438.76 L137.30,440.25 L138.30,441.71 L139.30,443.13 L140.30,444.52 L141.30,445.86 L142.30,447.16 L143.30,448.43 L144.30,449.65 L145.30,450.83 L146.30,451.96 L147.30,453.05 L148.30,454.10 L149.30,455.10 L150.30,456.06 L151.30,456.98 L152.30,457.86 L153.30,458.69 L154.30,459.49 L155.30,460.24 L156.30,460.95 L157.30,461.63 L158.30,462.27 L159.30,462.87 L160.30,463.44 L161.30,463.97 L162.30,464.48 L163.30,464.95 L164.30,465.39 L165.30,465.80 L166.30,466.19 L167.30,466.55 L168.30,466.88 L169.30,467.19 L170.30,467.48 L171.30,467.75 L172.30,468.00 L173.30,468.23 L174.30,468.44 L175.30,468.63 L176.30,468.81 L177.30,468.98 L178.30,469.13 L179.30,469.27 L180.30,469.40 L181.30,469.52 L182.30,469.62 L183.30,469.72 L184.30,469.81 L185.30,469.89 L186.30,469.96 L187.30,470.03 L188.30,470.09 L189.30,470.14 L190.30,470.19 L191.30,470.24 L192.30,470.28 L193.30,470.31 L194.30,470.34 L195.30,470.37 L196.30,470.40 L197.30,470.42 L198.30,470.44 L199.30,470.46 L200.30,470.48 L201.30,470.49 L202.30,470.50 L203.30,470.52 L204.30,470.53 L205.30,470.54 L206.30,470.54 L207.30,470.55 L208.30,470.56 L209.30,470.56 L210.30,470.57 L211.30,470.57 L212.30,470.58 L213.30,470.58 L214.30,470.58 L215.30,470.58 L216.30,470.59 L217.30,470.59 L218.30,470.59 L219.30,470.59 L220.30,470.59 L221.30,470.59 L222.30,470.59 L223.30,470.60 L224.30,470.60 L225.30,470.60 L226.30,470.60 L227.30,470.60 L228.30,470.60 L229.30,470.60 L230.30,470.60 L231.30,470.60 L232.30,470.60 L233.30,470.60 L234.30,470.60 L235.30,470.60 L236.30,470.60 L237.30,470.60 L238.30,470.60 L239.30,470.60 L240.30,470.60 L241.30,470.60 L242.30,470.60 L243.30,470.60 L244.30,470.60 L245.30,470.60 L246.30,470.60 L247.30,470.60 L248.30,470.60 L249.30,470.60 L250.30,470.60 L251.30,470.60 L252.30,470.60 L253.30,470.60 L254.30,470.60 L255.30,470.60 L256.30,470.60 L257.30,470.60 L258.30,470.60 L259.30,470.60 L260.30,470.60 L261.30,470.60 L262.30,470.60 L263.30,470.60 L264.30,470.60 L265.30,470.60 L266.30,470.60 L267.30,470.60 L268.30,470.60 L269.30,470.60 L270.30,470.60 L271.30,470.60 L272.30,470.60 L273.30,470.60 L274.30,470.60 L275.30,470.60 L276.30,470.60 L277.30,470.60 L278.30,470.60 L279.30,470.60 L280.30,470.60 L281.30,470.60 L282.30,470.60 L283.30,470.60 L284.30,470.60 L285.30,470.60 L286.30,470.60 L286.70,470.60" fill="none" stroke="#000" stroke-width="1.7" stroke-linejoin="round"/>
<path d="M32.30,469.89 L33.30,469.84 L34.30,469.78 L35.30,469.72 L36.30,469.66 L37.30,469.59 L38.30,469.51 L39.30,469.44 L40.30,469.35 L41.30,469.27 L42.30,469.17 L43.30,469.08 L44.30,468.97 L45.30,468.86 L46.30,468.74 L47.30,468.62 L48.30,468.49 L49.30,468.35 L50.30,468.20 L51.30,468.05 L52.30,467.88 L53.30,467.71 L54.30,467.53 L55.30,467.34 L56.30,467.13 L57.30,466.92 L58.30,466.70 L59.30,466.46 L60.30,466.21 L61.30,465.95 L62.30,465.68 L63.30,465.39 L64.30,465.09 L65.30,464.77 L66.30,464.44 L67.30,464.10 L68.30,463.74 L69.30,463.36 L70.30,462.96 L71.30,462.55 L72.30,462.12 L73.30,461.67 L74.30,461.20 L75.30,460.72 L76.30,460.21 L77.30,459.68 L78.30,459.13 L79.30,458.56 L80.30,457.97 L81.30,457.35 L82.30,456.71 L83.30,456.05 L84.30,455.36 L85.30,454.65 L86.30,453.92 L87.30,453.16 L88.30,452.38 L89.30,451.56 L90.30,450.73 L91.30,449.86 L92.30,448.97 L93.30,448.06 L94.30,447.11 L95.30,446.14 L96.30,445.15 L97.30,444.12 L98.30,443.07 L99.30,441.99 L100.30,440.88 L101.30,439.75 L102.30,438.58 L103.30,437.40 L104.30,436.18 L105.30,434.94 L106.30,433.67 L107.30,432.38 L108.30,431.06 L109.30,429.71 L110.30,428.34 L111.30,426.95 L112.30,425.53 L113.30,424.10 L114.30,422.64 L115.30,421.16 L116.30,419.66 L117.30,418.14 L118.30,416.60 L119.30,415.04 L120.30,413.47 L121.30,411.89 L122.30,410.29 L123.30,408.68 L124.30,407.06 L125.30,405.43 L126.30,403.79 L127.30,402.14 L128.30,400.49 L129.30,398.83 L130.30,397.18 L131.30,395.52 L132.30,393.86 L133.30,392.21 L134.30,390.56 L135.30,388.92 L136.30,387.29 L137.30,385.67 L138.30,384.06 L139.30,382.46 L140.30,380.88 L141.30,379.32 L142.30,377.77 L143.30,376.25 L144.30,374.75 L145.30,373.28 L146.30,371.83 L147.30,370.42 L148.30,369.03 L149.30,367.68 L150.30,366.36 L151.30,365.08 L152.30,363.84 L153.30,362.63 L154.30,361.47 L155.30,360.35 L156.30,359.28 L157.30,358.25 L158.30,357.27 L159.30,356.34 L160.30,355.46 L161.30,354.63 L162.30,353.85 L163.30,353.13 L164.30,352.46 L165.30,351.85 L166.30,351.30 L167.30,350.81 L168.30,350.37 L169.30,349.99 L170.30,349.68 L171.30,349.42 L172.30,349.22 L173.30,349.09 L174.30,349.02 L175.30,349.00 L176.30,349.05 L177.30,349.16 L178.30,349.33 L179.30,349.57 L180.30,349.86 L181.30,350.21 L182.30,350.63 L183.30,351.10 L184.30,351.63 L185.30,352.21 L186.30,352.86 L187.30,353.56 L188.30,354.31 L189.30,355.12 L190.30,355.98 L191.30,356.89 L192.30,357.85 L193.30,358.86 L194.30,359.92 L195.30,361.02 L196.30,362.16 L197.30,363.35 L198.30,364.58 L199.30,365.84 L200.30,367.15 L201.30,368.49 L202.30,369.86 L203.30,371.26 L204.30,372.70 L205.30,374.16 L206.30,375.65 L207.30,377.16 L208.30,378.70 L209.30,380.25 L210.30,381.82 L211.30,383.42 L212.30,385.02 L213.30,386.64 L214.30,388.27 L215.30,389.91 L216.30,391.55 L217.30,393.20 L218.30,394.86 L219.30,396.51 L220.30,398.17 L221.30,399.83 L222.30,401.48 L223.30,403.13 L224.30,404.77 L225.30,406.41 L226.30,408.03 L227.30,409.65 L228.30,411.25 L229.30,412.84 L230.30,414.42 L231.30,415.98 L232.30,417.52 L233.30,419.05 L234.30,420.56 L235.30,422.05 L236.30,423.52 L237.30,424.96 L238.30,426.39 L239.30,427.79 L240.30,429.17 L241.30,430.52 L242.30,431.85 L243.30,433.15 L244.30,434.43 L245.30,435.69 L246.30,436.91 L247.30,438.11 L248.30,439.28 L249.30,440.43 L250.30,441.55 L251.30,442.64 L252.30,443.70 L253.30,444.74 L254.30,445.75 L255.30,446.73 L256.30,447.68 L257.30,448.61 L258.30,449.51 L259.30,450.39 L260.30,451.23 L261.30,452.05 L262.30,452.85 L263.30,453.62 L264.30,454.36 L265.30,455.08 L266.30,455.78 L267.30,456.45 L268.30,457.10 L269.30,457.72 L270.30,458.32 L271.30,458.90 L272.30,459.46 L273.30,460.00 L274.30,460.52 L275.30,461.01 L276.30,461.49 L277.30,461.94 L278.30,462.38 L279.30,462.80 L280.30,463.20 L281.30,463.59 L282.30,463.96 L283.30,464.31 L284.30,464.64 L285.30,464.97 L286.30,465.27 L286.70,465.39" fill="none" stroke="#000" stroke-width="1.7" stroke-linejoin="round"/>
<path d="M32.30,470.60 L33.30,470.60 L34.30,470.60 L35.30,470.60 L36.30,470.60 L37.30,470.60 L38.30,470.60 L39.30,470.60 L40.30,470.60 L41.30,470.60 L42.30,470.60 L43.30,470.60 L44.30,470.60 L45.30,470.60 L46.30,470.60 L47.30,470.60 L48.30,470.60 L49.30,470.60 L50.30,470.60 L51.30,470.60 L52.30,470.60 L53.30,470.60 L54.30,470.60 L55.30,470.60 L56.30,470.60 L57.30,470.60 L58.30,470.60 L59.30,470.60 L60.30,470.60 L61.30,470.60 L62.30,470.60 L63.30,470.60 L64.30,470.60 L65.30,470.60 L66.30,470.60 L67.30,470.60 L68.30,470.60 L69.30,470.60 L70.30,470.60 L71.30,470.60 L72.30,470.60 L73.30,470.60 L74.30,470.60 L75.30,470.60 L76.30,470.60 L77.30,470.60 L78.30,470.60 L79.30,470.60 L80.30,470.60 L81.30,470.60 L82.30,470.60 L83.30,470.60 L84.30,470.60 L85.30,470.60 L86.30,470.60 L87.30,470.60 L88.30,470.60 L89.30,470.60 L90.30,470.60 L91.30,470.60 L92.30,470.60 L93.30,470.60 L94.30,470.60 L95.30,470.60 L96.30,470.60 L97.30,470.60 L98.30,470.60 L99.30,470.60 L100.30,470.60 L101.30,470.60 L102.30,470.59 L103.30,470.59 L104.30,470.59 L105.30,470.59 L106.30,470.59 L107.30,470.59 L108.30,470.58 L109.30,470.58 L110.30,470.58 L111.30,470.57 L112.30,470.57 L113.30,470.56 L114.30,470.56 L115.30,470.55 L116.30,470.54 L117.30,470.53 L118.30,470.52 L119.30,470.50 L120.30,470.49 L121.30,470.47 L122.30,470.45 L123.30,470.42 L124.30,470.40 L125.30,470.37 L126.30,470.33 L127.30,470.29 L128.30,470.25 L129.30,470.20 L130.30,470.14 L131.30,470.07 L132.30,470.00 L133.30,469.92 L134.30,469.83 L135.30,469.73 L136.30,469.62 L137.30,469.49 L138.30,469.35 L139.30,469.20 L140.30,469.03 L141.30,468.85 L142.30,468.65 L143.30,468.42 L144.30,468.18 L145.30,467.91 L146.30,467.62 L147.30,467.31 L148.30,466.96 L149.30,466.59 L150.30,466.19 L151.30,465.76 L152.30,465.30 L153.30,464.80 L154.30,464.27 L155.30,463.70 L156.30,463.10 L157.30,462.46 L158.30,461.78 L159.30,461.06 L160.30,460.30 L161.30,459.50 L162.30,458.66 L163.30,457.78 L164.30,456.86 L165.30,455.91 L166.30,454.92 L167.30,453.89 L168.30,452.82 L169.30,451.73 L170.30,450.60 L171.30,449.45 L172.30,448.27 L173.30,447.07 L174.30,445.85 L175.30,444.61 L176.30,443.37 L177.30,442.11 L178.30,440.86 L179.30,439.61 L180.30,438.36 L181.30,437.13 L182.30,435.91 L183.30,434.72 L184.30,433.56 L185.30,432.42 L186.30,431.33 L187.30,430.28 L188.30,429.28 L189.30,428.33 L190.30,427.44 L191.30,426.62 L192.30,425.86 L193.30,425.17 L194.30,424.56 L195.30,424.03 L196.30,423.57 L197.30,423.21 L198.30,422.92 L199.30,422.73 L200.30,422.62 L201.30,422.60 L202.30,422.68 L203.30,422.84 L204.30,423.08 L205.30,423.42 L206.30,423.84 L207.30,424.34 L208.30,424.92 L209.30,425.58 L210.30,426.31 L211.30,427.10 L212.30,427.97 L213.30,428.89 L214.30,429.87 L215.30,430.90 L216.30,431.98 L217.30,433.10 L218.30,434.25 L219.30,435.43 L220.30,436.64 L221.30,437.87 L222.30,439.11 L223.30,440.36 L224.30,441.61 L225.30,442.87 L226.30,444.11 L227.30,445.35 L228.30,446.58 L229.30,447.79 L230.30,448.98 L231.30,450.14 L232.30,451.28 L233.30,452.39 L234.30,453.47 L235.30,454.51 L236.30,455.52 L237.30,456.49 L238.30,457.42 L239.30,458.31 L240.30,459.17 L241.30,459.98 L242.30,460.76 L243.30,461.49 L244.30,462.19 L245.30,462.85 L246.30,463.47 L247.30,464.05 L248.30,464.59 L249.30,465.10 L250.30,465.58 L251.30,466.02 L252.30,466.44 L253.30,466.82 L254.30,467.17 L255.30,467.50 L256.30,467.80 L257.30,468.07 L258.30,468.33 L259.30,468.56 L260.30,468.77 L261.30,468.96 L262.30,469.14 L263.30,469.30 L264.30,469.44 L265.30,469.57 L266.30,469.69 L267.30,469.79 L268.30,469.89 L269.30,469.97 L270.30,470.05 L271.30,470.11 L272.30,470.17 L273.30,470.23 L274.30,470.27 L275.30,470.32 L276.30,470.35 L277.30,470.38 L278.30,470.41 L279.30,470.44 L280.30,470.46 L281.30,470.48 L282.30,470.50 L283.30,470.51 L284.30,470.52 L285.30,470.53 L286.30,470.54 L286.70,470.55" fill="none" stroke="#000" stroke-width="1.7" stroke-linejoin="round"/>
<path d="M32.00,463.70 C33.80,462.37 39.22,459.43 42.80,455.70 C46.38,451.97 50.22,446.38 53.50,441.30 C56.78,436.22 59.50,430.88 62.50,425.20 C65.50,419.52 68.50,413.20 71.50,407.20 C74.50,401.20 77.50,394.88 80.50,389.20 C83.50,383.52 86.52,377.43 89.50,373.10 C92.48,368.77 95.42,365.90 98.40,363.20 C101.38,360.50 104.10,358.55 107.40,356.90 C110.70,355.25 115.27,354.05 118.20,353.30 C121.13,352.55 122.53,352.77 125.00,352.40 C127.47,352.03 130.33,351.80 133.00,351.10 C135.67,350.40 138.35,349.58 141.00,348.20 C143.65,346.82 146.25,345.02 148.90,342.80 C151.55,340.58 154.23,337.77 156.90,334.90 C159.57,332.03 162.25,328.48 164.90,325.60 C167.55,322.72 170.15,319.82 172.80,317.60 C175.45,315.38 178.35,313.45 180.80,312.30 C183.25,311.15 185.28,310.70 187.50,310.70 C189.72,310.70 191.90,310.93 194.10,312.30 C196.30,313.67 198.68,315.87 200.70,318.90 C202.72,321.93 204.27,325.83 206.20,330.50 C208.13,335.17 210.25,341.08 212.30,346.90 C214.35,352.72 216.45,359.25 218.50,365.40 C220.55,371.55 222.55,377.98 224.60,383.80 C226.65,389.62 228.75,394.82 230.80,400.30 C232.85,405.78 234.52,411.23 236.90,416.70 C239.28,422.17 242.02,427.98 245.10,433.10 C248.18,438.22 251.63,443.30 255.40,447.40 C259.17,451.50 263.25,454.62 267.70,457.70 C272.15,460.78 278.68,464.37 282.10,465.90 C285.52,467.43 287.18,466.73 288.20,466.90" fill="none" stroke="#ff0000" stroke-width="1.8" stroke-linejoin="round"/>
</g>
<line x1="32.50" y1="264.80" x2="32.50" y2="470.60" stroke="#929292" stroke-width="1.1"/>
<line x1="286.70" y1="264.80" x2="286.70" y2="470.60" stroke="#858585" stroke-width="1.4"/>
<line x1="32.50" y1="264.80" x2="286.70" y2="264.80" stroke="#707070" stroke-width="1.4" stroke-linecap="square"/>
<line x1="32.00" y1="470.80" x2="287.20" y2="470.80" stroke="#1a1a1a" stroke-width="1.3"/>
<line x1="174.40" y1="470.60" x2="174.40" y2="474.10" stroke="#333" stroke-width="0.8"/>
<text class="tk" style="font-size:9px" x="166.00" y="483.60" textLength="17.3" lengthAdjust="spacingAndGlyphs">1400</text>
<text class="ax" font-size="15.8" text-anchor="middle" transform="translate(12.30,369.50) rotate(-90)">Absorbance (a.u.)</text>
<text class="ax" font-size="15.2" x="92.80" y="507.30" letter-spacing="0.42">Wavenumber (cm<tspan font-size="9" dy="-6.5">-1</tspan><tspan dy="6.5">)</tspan></text>
<text class="lab" style="font-size:16.5px" stroke="#111" stroke-width="0.3" x="36.00" y="284.20" textLength="17.90" lengthAdjust="spacingAndGlyphs">(c)</text>
<text class="ann" x="151.50" y="284.10">Free ion (1399 cm<tspan font-size="8" dy="-5">-1</tspan><tspan dy="5">)</tspan></text>
<text class="ann" x="33.90" y="333.40">Contact ion (1349 cm<tspan font-size="8" dy="-5">-1</tspan><tspan dy="5">)</tspan></text>
<text class="ann" x="222.60" y="342.80">Contact ion</text>
<text class="ann" x="222.20" y="359.60">(1416 cm<tspan font-size="8" dy="-5">-1</tspan><tspan dy="5">)</tspan></text>
<line x1="185.50" y1="295.00" x2="176.20" y2="346.50" stroke="#444" stroke-width="0.75" stroke-dasharray="2,1.5" marker-end="url(#ah)"/>
<line x1="226.70" y1="371.50" x2="203.50" y2="420.50" stroke="#444" stroke-width="0.75" marker-end="url(#ah)"/>
<line x1="82.30" y1="341.70" x2="95.70" y2="388.50" stroke="#444" stroke-width="0.75" marker-end="url(#ah)"/>
<line x1="185.90" y1="306.50" x2="185.90" y2="314.50" stroke="#ff3030" stroke-width="0.9"/>
<clipPath id="clip_d"><rect x="346.00" y="264.50" width="254.80" height="208.00"/></clipPath>
<g clip-path="url(#clip_d)">
<path d="M346.00,470.50 L346.00,470.50 L347.00,470.50 L348.00,470.50 L349.00,470.50 L350.00,470.50 L351.00,470.50 L352.00,470.50 L353.00,470.50 L354.00,470.50 L355.00,470.50 L356.00,470.50 L357.00,470.50 L358.00,470.49 L359.00,470.49 L360.00,470.49 L361.00,470.49 L362.00,470.49 L363.00,470.49 L364.00,470.49 L365.00,470.49 L366.00,470.48 L367.00,470.48 L368.00,470.48 L369.00,470.48 L370.00,470.47 L371.00,470.47 L372.00,470.46 L373.00,470.46 L374.00,470.45 L375.00,470.45 L376.00,470.44 L377.00,470.43 L378.00,470.42 L379.00,470.41 L380.00,470.40 L381.00,470.39 L382.00,470.38 L383.00,470.36 L384.00,470.35 L385.00,470.33 L386.00,470.30 L387.00,470.28 L388.00,470.26 L389.00,470.23 L390.00,470.19 L391.00,470.16 L392.00,470.12 L393.00,470.08 L394.00,470.03 L395.00,469.97 L396.00,469.92 L397.00,469.85 L398.00,469.78 L399.00,469.70 L400.00,469.62 L401.00,469.53 L402.00,469.42 L403.00,469.31 L404.00,469.19 L405.00,469.06 L406.00,468.92 L407.00,468.76 L408.00,468.59 L409.00,468.41 L410.00,468.21 L411.00,467.99 L412.00,467.75 L413.00,467.50 L414.00,467.23 L415.00,466.93 L416.00,466.61 L417.00,466.27 L418.00,465.91 L419.00,465.51 L420.00,465.09 L421.00,464.64 L422.00,464.15 L423.00,463.64 L424.00,463.08 L425.00,462.50 L426.00,461.87 L427.00,461.20 L428.00,460.50 L429.00,459.74 L430.00,458.95 L431.00,458.11 L432.00,457.22 L433.00,456.28 L434.00,455.29 L435.00,454.24 L436.00,453.14 L437.00,451.99 L438.00,450.78 L439.00,449.51 L440.00,448.18 L441.00,446.79 L442.00,445.34 L443.00,443.82 L444.00,442.25 L445.00,440.61 L446.00,438.90 L447.00,437.14 L448.00,435.31 L449.00,433.41 L450.00,431.45 L451.00,429.43 L452.00,427.35 L453.00,425.21 L454.00,423.01 L455.00,420.75 L456.00,418.43 L457.00,416.06 L458.00,413.64 L459.00,411.17 L460.00,408.66 L461.00,406.11 L462.00,403.51 L463.00,400.88 L464.00,398.22 L465.00,395.53 L466.00,392.82 L467.00,390.09 L468.00,387.35 L469.00,384.60 L470.00,381.84 L471.00,379.09 L472.00,376.35 L473.00,373.62 L474.00,370.92 L475.00,368.23 L476.00,365.59 L477.00,362.97 L478.00,360.41 L479.00,357.89 L480.00,355.44 L481.00,353.04 L482.00,350.72 L483.00,348.47 L484.00,346.30 L485.00,344.22 L486.00,342.23 L487.00,340.34 L488.00,338.55 L489.00,336.87 L490.00,335.31 L491.00,333.86 L492.00,332.53 L493.00,331.33 L494.00,330.26 L495.00,329.33 L496.00,328.52 L497.00,327.86 L498.00,327.33 L499.00,326.95 L500.00,326.70 L501.00,326.60 L502.00,326.65 L503.00,326.83 L504.00,327.16 L505.00,327.63 L506.00,328.24 L507.00,328.99 L508.00,329.87 L509.00,330.89 L510.00,332.04 L511.00,333.31 L512.00,334.71 L513.00,336.23 L514.00,337.87 L515.00,339.61 L516.00,341.46 L517.00,343.41 L518.00,345.45 L519.00,347.59 L520.00,349.81 L521.00,352.10 L522.00,354.47 L523.00,356.90 L524.00,359.40 L525.00,361.94 L526.00,364.54 L527.00,367.17 L528.00,369.84 L529.00,372.54 L530.00,375.26 L531.00,378.00 L532.00,380.74 L533.00,383.50 L534.00,386.25 L535.00,388.99 L536.00,391.73 L537.00,394.45 L538.00,397.15 L539.00,399.82 L540.00,402.46 L541.00,405.07 L542.00,407.64 L543.00,410.17 L544.00,412.66 L545.00,415.10 L546.00,417.49 L547.00,419.83 L548.00,422.11 L549.00,424.33 L550.00,426.50 L551.00,428.61 L552.00,430.65 L553.00,432.63 L554.00,434.56 L555.00,436.41 L556.00,438.21 L557.00,439.93 L558.00,441.60 L559.00,443.20 L560.00,444.74 L561.00,446.22 L562.00,447.63 L563.00,448.98 L564.00,450.28 L565.00,451.51 L566.00,452.69 L567.00,453.81 L568.00,454.88 L569.00,455.89 L570.00,456.85 L571.00,457.76 L572.00,458.62 L573.00,459.43 L574.00,460.20 L575.00,460.93 L576.00,461.61 L577.00,462.25 L578.00,462.85 L579.00,463.42 L580.00,463.95 L581.00,464.45 L582.00,464.91 L583.00,465.35 L584.00,465.75 L585.00,466.13 L586.00,466.48 L587.00,466.81 L588.00,467.11 L589.00,467.39 L590.00,467.65 L591.00,467.90 L592.00,468.12 L593.00,468.33 L594.00,468.52 L595.00,468.69 L596.00,468.86 L597.00,469.00 L598.00,469.14 L599.00,469.27 L600.00,469.38 L600.80,469.47 L600.80,470.50 Z" fill="#cfcfcf"/>
<path d="M346.00,470.50 L346.00,463.82 L347.00,463.31 L348.00,462.77 L349.00,462.21 L350.00,461.61 L351.00,460.97 L352.00,460.31 L353.00,459.61 L354.00,458.88 L355.00,458.11 L356.00,457.30 L357.00,456.46 L358.00,455.59 L359.00,454.67 L360.00,453.72 L361.00,452.73 L362.00,451.71 L363.00,450.64 L364.00,449.54 L365.00,448.41 L366.00,447.24 L367.00,446.04 L368.00,444.80 L369.00,443.53 L370.00,442.23 L371.00,440.90 L372.00,439.55 L373.00,438.17 L374.00,436.76 L375.00,435.34 L376.00,433.89 L377.00,432.43 L378.00,430.96 L379.00,429.48 L380.00,427.99 L381.00,426.49 L382.00,424.99 L383.00,423.50 L384.00,422.01 L385.00,420.53 L386.00,419.07 L387.00,417.62 L388.00,416.19 L389.00,414.79 L390.00,413.41 L391.00,412.07 L392.00,410.76 L393.00,409.50 L394.00,408.28 L395.00,407.10 L396.00,405.98 L397.00,404.91 L398.00,403.90 L399.00,402.95 L400.00,402.06 L401.00,401.24 L402.00,400.49 L403.00,399.81 L404.00,399.21 L405.00,398.68 L406.00,398.23 L407.00,397.86 L408.00,397.57 L409.00,397.37 L410.00,397.24 L411.00,397.20 L412.00,397.24 L413.00,397.37 L414.00,397.57 L415.00,397.86 L416.00,398.23 L417.00,398.68 L418.00,399.21 L419.00,399.81 L420.00,400.49 L421.00,401.24 L422.00,402.06 L423.00,402.95 L424.00,403.90 L425.00,404.91 L426.00,405.98 L427.00,407.10 L428.00,408.28 L429.00,409.50 L430.00,410.76 L431.00,412.07 L432.00,413.41 L433.00,414.79 L434.00,416.19 L435.00,417.62 L436.00,419.07 L437.00,420.53 L438.00,422.01 L439.00,423.50 L440.00,424.99 L441.00,426.49 L442.00,427.99 L443.00,429.48 L444.00,430.96 L445.00,432.43 L446.00,433.89 L447.00,435.34 L448.00,436.76 L449.00,438.17 L450.00,439.55 L451.00,440.90 L452.00,442.23 L453.00,443.53 L454.00,444.80 L455.00,446.04 L456.00,447.24 L457.00,448.41 L458.00,449.54 L459.00,450.64 L460.00,451.71 L461.00,452.73 L462.00,453.72 L463.00,454.67 L464.00,455.59 L465.00,456.46 L466.00,457.30 L467.00,458.11 L468.00,458.88 L469.00,459.61 L470.00,460.31 L471.00,460.97 L472.00,461.61 L473.00,462.21 L474.00,462.77 L475.00,463.31 L476.00,463.82 L477.00,464.29 L478.00,464.75 L479.00,465.17 L480.00,465.57 L481.00,465.94 L482.00,466.29 L483.00,466.62 L484.00,466.93 L485.00,467.21 L486.00,467.48 L487.00,467.73 L488.00,467.96 L489.00,468.17 L490.00,468.37 L491.00,468.55 L492.00,468.72 L493.00,468.88 L494.00,469.02 L495.00,469.16 L496.00,469.28 L497.00,469.39 L498.00,469.50 L499.00,469.59 L500.00,469.68 L501.00,469.76 L502.00,469.83 L503.00,469.90 L504.00,469.96 L505.00,470.01 L506.00,470.06 L507.00,470.11 L508.00,470.15 L509.00,470.18 L510.00,470.22 L511.00,470.25 L512.00,470.27 L513.00,470.30 L514.00,470.32 L515.00,470.34 L516.00,470.36 L517.00,470.37 L518.00,470.39 L519.00,470.40 L520.00,470.41 L521.00,470.42 L522.00,470.43 L523.00,470.44 L524.00,470.45 L525.00,470.45 L526.00,470.46 L527.00,470.46 L528.00,470.47 L529.00,470.47 L530.00,470.48 L531.00,470.48 L532.00,470.48 L533.00,470.48 L534.00,470.49 L535.00,470.49 L536.00,470.49 L537.00,470.49 L538.00,470.49 L539.00,470.49 L540.00,470.49 L541.00,470.49 L542.00,470.50 L543.00,470.50 L544.00,470.50 L545.00,470.50 L546.00,470.50 L547.00,470.50 L548.00,470.50 L549.00,470.50 L550.00,470.50 L551.00,470.50 L552.00,470.50 L553.00,470.50 L554.00,470.50 L555.00,470.50 L556.00,470.50 L557.00,470.50 L558.00,470.50 L559.00,470.50 L560.00,470.50 L561.00,470.50 L562.00,470.50 L563.00,470.50 L564.00,470.50 L565.00,470.50 L566.00,470.50 L567.00,470.50 L568.00,470.50 L569.00,470.50 L570.00,470.50 L571.00,470.50 L572.00,470.50 L573.00,470.50 L574.00,470.50 L575.00,470.50 L576.00,470.50 L577.00,470.50 L578.00,470.50 L579.00,470.50 L580.00,470.50 L581.00,470.50 L582.00,470.50 L583.00,470.50 L584.00,470.50 L585.00,470.50 L586.00,470.50 L587.00,470.50 L588.00,470.50 L589.00,470.50 L590.00,470.50 L591.00,470.50 L592.00,470.50 L593.00,470.50 L594.00,470.50 L595.00,470.50 L596.00,470.50 L597.00,470.50 L598.00,470.50 L599.00,470.50 L600.00,470.50 L600.80,470.50 L600.80,470.50 Z" fill="url(#hatch)"/>
<path d="M346.00,470.50 L346.00,470.50 L347.00,470.50 L348.00,470.50 L349.00,470.50 L350.00,470.50 L351.00,470.50 L352.00,470.50 L353.00,470.50 L354.00,470.50 L355.00,470.50 L356.00,470.50 L357.00,470.50 L358.00,470.50 L359.00,470.50 L360.00,470.50 L361.00,470.50 L362.00,470.50 L363.00,470.50 L364.00,470.50 L365.00,470.50 L366.00,470.50 L367.00,470.50 L368.00,470.50 L369.00,470.50 L370.00,470.50 L371.00,470.50 L372.00,470.50 L373.00,470.50 L374.00,470.50 L375.00,470.50 L376.00,470.50 L377.00,470.50 L378.00,470.50 L379.00,470.50 L380.00,470.50 L381.00,470.50 L382.00,470.50 L383.00,470.50 L384.00,470.50 L385.00,470.50 L386.00,470.50 L387.00,470.50 L388.00,470.50 L389.00,470.50 L390.00,470.50 L391.00,470.50 L392.00,470.50 L393.00,470.50 L394.00,470.50 L395.00,470.50 L396.00,470.50 L397.00,470.50 L398.00,470.50 L399.00,470.50 L400.00,470.50 L401.00,470.50 L402.00,470.50 L403.00,470.50 L404.00,470.50 L405.00,470.50 L406.00,470.50 L407.00,470.50 L408.00,470.50 L409.00,470.50 L410.00,470.50 L411.00,470.50 L412.00,470.50 L413.00,470.50 L414.00,470.50 L415.00,470.50 L416.00,470.50 L417.00,470.50 L418.00,470.50 L419.00,470.50 L420.00,470.50 L421.00,470.50 L422.00,470.50 L423.00,470.50 L424.00,470.50 L425.00,470.50 L426.00,470.50 L427.00,470.50 L428.00,470.50 L429.00,470.50 L430.00,470.50 L431.00,470.50 L432.00,470.50 L433.00,470.50 L434.00,470.50 L435.00,470.50 L436.00,470.50 L437.00,470.50 L438.00,470.50 L439.00,470.50 L440.00,470.50 L441.00,470.50 L442.00,470.50 L443.00,470.50 L444.00,470.50 L445.00,470.50 L446.00,470.50 L447.00,470.50 L448.00,470.50 L449.00,470.50 L450.00,470.50 L451.00,470.50 L452.00,470.50 L453.00,470.50 L454.00,470.50 L455.00,470.50 L456.00,470.50 L457.00,470.50 L458.00,470.50 L459.00,470.50 L460.00,470.50 L461.00,470.50 L462.00,470.50 L463.00,470.50 L464.00,470.49 L465.00,470.49 L466.00,470.49 L467.00,470.49 L468.00,470.49 L469.00,470.48 L470.00,470.48 L471.00,470.47 L472.00,470.47 L473.00,470.46 L474.00,470.45 L475.00,470.44 L476.00,470.42 L477.00,470.41 L478.00,470.39 L479.00,470.36 L480.00,470.33 L481.00,470.30 L482.00,470.26 L483.00,470.21 L484.00,470.15 L485.00,470.08 L486.00,470.00 L487.00,469.91 L488.00,469.81 L489.00,469.68 L490.00,469.54 L491.00,469.38 L492.00,469.19 L493.00,468.97 L494.00,468.73 L495.00,468.45 L496.00,468.13 L497.00,467.78 L498.00,467.38 L499.00,466.93 L500.00,466.43 L501.00,465.87 L502.00,465.25 L503.00,464.56 L504.00,463.81 L505.00,462.98 L506.00,462.07 L507.00,461.08 L508.00,460.00 L509.00,458.84 L510.00,457.58 L511.00,456.24 L512.00,454.79 L513.00,453.25 L514.00,451.62 L515.00,449.89 L516.00,448.06 L517.00,446.15 L518.00,444.15 L519.00,442.07 L520.00,439.92 L521.00,437.70 L522.00,435.42 L523.00,433.09 L524.00,430.72 L525.00,428.33 L526.00,425.92 L527.00,423.51 L528.00,421.12 L529.00,418.76 L530.00,416.44 L531.00,414.18 L532.00,412.00 L533.00,409.91 L534.00,407.93 L535.00,406.08 L536.00,404.36 L537.00,402.80 L538.00,401.40 L539.00,400.18 L540.00,399.14 L541.00,398.30 L542.00,397.67 L543.00,397.24 L544.00,397.03 L545.00,397.03 L546.00,397.24 L547.00,397.67 L548.00,398.30 L549.00,399.14 L550.00,400.18 L551.00,401.40 L552.00,402.80 L553.00,404.36 L554.00,406.08 L555.00,407.93 L556.00,409.91 L557.00,412.00 L558.00,414.18 L559.00,416.44 L560.00,418.76 L561.00,421.12 L562.00,423.51 L563.00,425.92 L564.00,428.33 L565.00,430.72 L566.00,433.09 L567.00,435.42 L568.00,437.70 L569.00,439.92 L570.00,442.07 L571.00,444.15 L572.00,446.15 L573.00,448.06 L574.00,449.89 L575.00,451.62 L576.00,453.25 L577.00,454.79 L578.00,456.24 L579.00,457.58 L580.00,458.84 L581.00,460.00 L582.00,461.08 L583.00,462.07 L584.00,462.98 L585.00,463.81 L586.00,464.56 L587.00,465.25 L588.00,465.87 L589.00,466.43 L590.00,466.93 L591.00,467.38 L592.00,467.78 L593.00,468.13 L594.00,468.45 L595.00,468.73 L596.00,468.97 L597.00,469.19 L598.00,469.38 L599.00,469.54 L600.00,469.68 L600.80,469.78 L600.80,470.50 Z" fill="url(#hatch)"/>
<path d="M346.00,463.82 L347.00,463.31 L348.00,462.77 L349.00,462.21 L350.00,461.61 L351.00,460.97 L352.00,460.31 L353.00,459.61 L354.00,458.88 L355.00,458.11 L356.00,457.30 L357.00,456.46 L358.00,455.59 L359.00,454.67 L360.00,453.72 L361.00,452.73 L362.00,451.71 L363.00,450.64 L364.00,449.54 L365.00,448.41 L366.00,447.24 L367.00,446.04 L368.00,444.80 L369.00,443.53 L370.00,442.23 L371.00,440.90 L372.00,439.55 L373.00,438.17 L374.00,436.76 L375.00,435.34 L376.00,433.89 L377.00,432.43 L378.00,430.96 L379.00,429.48 L380.00,427.99 L381.00,426.49 L382.00,424.99 L383.00,423.50 L384.00,422.01 L385.00,420.53 L386.00,419.07 L387.00,417.62 L388.00,416.19 L389.00,414.79 L390.00,413.41 L391.00,412.07 L392.00,410.76 L393.00,409.50 L394.00,408.28 L395.00,407.10 L396.00,405.98 L397.00,404.91 L398.00,403.90 L399.00,402.95 L400.00,402.06 L401.00,401.24 L402.00,400.49 L403.00,399.81 L404.00,399.21 L405.00,398.68 L406.00,398.23 L407.00,397.86 L408.00,397.57 L409.00,397.37 L410.00,397.24 L411.00,397.20 L412.00,397.24 L413.00,397.37 L414.00,397.57 L415.00,397.86 L416.00,398.23 L417.00,398.68 L418.00,399.21 L419.00,399.81 L420.00,400.49 L421.00,401.24 L422.00,402.06 L423.00,402.95 L424.00,403.90 L425.00,404.91 L426.00,405.98 L427.00,407.10 L428.00,408.28 L429.00,409.50 L430.00,410.76 L431.00,412.07 L432.00,413.41 L433.00,414.79 L434.00,416.19 L435.00,417.62 L436.00,419.07 L437.00,420.53 L438.00,422.01 L439.00,423.50 L440.00,424.99 L441.00,426.49 L442.00,427.99 L443.00,429.48 L444.00,430.96 L445.00,432.43 L446.00,433.89 L447.00,435.34 L448.00,436.76 L449.00,438.17 L450.00,439.55 L451.00,440.90 L452.00,442.23 L453.00,443.53 L454.00,444.80 L455.00,446.04 L456.00,447.24 L457.00,448.41 L458.00,449.54 L459.00,450.64 L460.00,451.71 L461.00,452.73 L462.00,453.72 L463.00,454.67 L464.00,455.59 L465.00,456.46 L466.00,457.30 L467.00,458.11 L468.00,458.88 L469.00,459.61 L470.00,460.31 L471.00,460.97 L472.00,461.61 L473.00,462.21 L474.00,462.77 L475.00,463.31 L476.00,463.82 L477.00,464.29 L478.00,464.75 L479.00,465.17 L480.00,465.57 L481.00,465.94 L482.00,466.29 L483.00,466.62 L484.00,466.93 L485.00,467.21 L486.00,467.48 L487.00,467.73 L488.00,467.96 L489.00,468.17 L490.00,468.37 L491.00,468.55 L492.00,468.72 L493.00,468.88 L494.00,469.02 L495.00,469.16 L496.00,469.28 L497.00,469.39 L498.00,469.50 L499.00,469.59 L500.00,469.68 L501.00,469.76 L502.00,469.83 L503.00,469.90 L504.00,469.96 L505.00,470.01 L506.00,470.06 L507.00,470.11 L508.00,470.15 L509.00,470.18 L510.00,470.22 L511.00,470.25 L512.00,470.27 L513.00,470.30 L514.00,470.32 L515.00,470.34 L516.00,470.36 L517.00,470.37 L518.00,470.39 L519.00,470.40 L520.00,470.41 L521.00,470.42 L522.00,470.43 L523.00,470.44 L524.00,470.45 L525.00,470.45 L526.00,470.46 L527.00,470.46 L528.00,470.47 L529.00,470.47 L530.00,470.48 L531.00,470.48 L532.00,470.48 L533.00,470.48 L534.00,470.49 L535.00,470.49 L536.00,470.49 L537.00,470.49 L538.00,470.49 L539.00,470.49 L540.00,470.49 L541.00,470.49 L542.00,470.50 L543.00,470.50 L544.00,470.50 L545.00,470.50 L546.00,470.50 L547.00,470.50 L548.00,470.50 L549.00,470.50 L550.00,470.50 L551.00,470.50 L552.00,470.50 L553.00,470.50 L554.00,470.50 L555.00,470.50 L556.00,470.50 L557.00,470.50 L558.00,470.50 L559.00,470.50 L560.00,470.50 L561.00,470.50 L562.00,470.50 L563.00,470.50 L564.00,470.50 L565.00,470.50 L566.00,470.50 L567.00,470.50 L568.00,470.50 L569.00,470.50 L570.00,470.50 L571.00,470.50 L572.00,470.50 L573.00,470.50 L574.00,470.50 L575.00,470.50 L576.00,470.50 L577.00,470.50 L578.00,470.50 L579.00,470.50 L580.00,470.50 L581.00,470.50 L582.00,470.50 L583.00,470.50 L584.00,470.50 L585.00,470.50 L586.00,470.50 L587.00,470.50 L588.00,470.50 L589.00,470.50 L590.00,470.50 L591.00,470.50 L592.00,470.50 L593.00,470.50 L594.00,470.50 L595.00,470.50 L596.00,470.50 L597.00,470.50 L598.00,470.50 L599.00,470.50 L600.00,470.50 L600.80,470.50" fill="none" stroke="#000" stroke-width="1.7" stroke-linejoin="round"/>
<path d="M346.00,470.50 L347.00,470.50 L348.00,470.50 L349.00,470.50 L350.00,470.50 L351.00,470.50 L352.00,470.50 L353.00,470.50 L354.00,470.50 L355.00,470.50 L356.00,470.50 L357.00,470.50 L358.00,470.49 L359.00,470.49 L360.00,470.49 L361.00,470.49 L362.00,470.49 L363.00,470.49 L364.00,470.49 L365.00,470.49 L366.00,470.48 L367.00,470.48 L368.00,470.48 L369.00,470.48 L370.00,470.47 L371.00,470.47 L372.00,470.46 L373.00,470.46 L374.00,470.45 L375.00,470.45 L376.00,470.44 L377.00,470.43 L378.00,470.42 L379.00,470.41 L380.00,470.40 L381.00,470.39 L382.00,470.38 L383.00,470.36 L384.00,470.35 L385.00,470.33 L386.00,470.30 L387.00,470.28 L388.00,470.26 L389.00,470.23 L390.00,470.19 L391.00,470.16 L392.00,470.12 L393.00,470.08 L394.00,470.03 L395.00,469.97 L396.00,469.92 L397.00,469.85 L398.00,469.78 L399.00,469.70 L400.00,469.62 L401.00,469.53 L402.00,469.42 L403.00,469.31 L404.00,469.19 L405.00,469.06 L406.00,468.92 L407.00,468.76 L408.00,468.59 L409.00,468.41 L410.00,468.21 L411.00,467.99 L412.00,467.75 L413.00,467.50 L414.00,467.23 L415.00,466.93 L416.00,466.61 L417.00,466.27 L418.00,465.91 L419.00,465.51 L420.00,465.09 L421.00,464.64 L422.00,464.15 L423.00,463.64 L424.00,463.08 L425.00,462.50 L426.00,461.87 L427.00,461.20 L428.00,460.50 L429.00,459.74 L430.00,458.95 L431.00,458.11 L432.00,457.22 L433.00,456.28 L434.00,455.29 L435.00,454.24 L436.00,453.14 L437.00,451.99 L438.00,450.78 L439.00,449.51 L440.00,448.18 L441.00,446.79 L442.00,445.34 L443.00,443.82 L444.00,442.25 L445.00,440.61 L446.00,438.90 L447.00,437.14 L448.00,435.31 L449.00,433.41 L450.00,431.45 L451.00,429.43 L452.00,427.35 L453.00,425.21 L454.00,423.01 L455.00,420.75 L456.00,418.43 L457.00,416.06 L458.00,413.64 L459.00,411.17 L460.00,408.66 L461.00,406.11 L462.00,403.51 L463.00,400.88 L464.00,398.22 L465.00,395.53 L466.00,392.82 L467.00,390.09 L468.00,387.35 L469.00,384.60 L470.00,381.84 L471.00,379.09 L472.00,376.35 L473.00,373.62 L474.00,370.92 L475.00,368.23 L476.00,365.59 L477.00,362.97 L478.00,360.41 L479.00,357.89 L480.00,355.44 L481.00,353.04 L482.00,350.72 L483.00,348.47 L484.00,346.30 L485.00,344.22 L486.00,342.23 L487.00,340.34 L488.00,338.55 L489.00,336.87 L490.00,335.31 L491.00,333.86 L492.00,332.53 L493.00,331.33 L494.00,330.26 L495.00,329.33 L496.00,328.52 L497.00,327.86 L498.00,327.33 L499.00,326.95 L500.00,326.70 L501.00,326.60 L502.00,326.65 L503.00,326.83 L504.00,327.16 L505.00,327.63 L506.00,328.24 L507.00,328.99 L508.00,329.87 L509.00,330.89 L510.00,332.04 L511.00,333.31 L512.00,334.71 L513.00,336.23 L514.00,337.87 L515.00,339.61 L516.00,341.46 L517.00,343.41 L518.00,345.45 L519.00,347.59 L520.00,349.81 L521.00,352.10 L522.00,354.47 L523.00,356.90 L524.00,359.40 L525.00,361.94 L526.00,364.54 L527.00,367.17 L528.00,369.84 L529.00,372.54 L530.00,375.26 L531.00,378.00 L532.00,380.74 L533.00,383.50 L534.00,386.25 L535.00,388.99 L536.00,391.73 L537.00,394.45 L538.00,397.15 L539.00,399.82 L540.00,402.46 L541.00,405.07 L542.00,407.64 L543.00,410.17 L544.00,412.66 L545.00,415.10 L546.00,417.49 L547.00,419.83 L548.00,422.11 L549.00,424.33 L550.00,426.50 L551.00,428.61 L552.00,430.65 L553.00,432.63 L554.00,434.56 L555.00,436.41 L556.00,438.21 L557.00,439.93 L558.00,441.60 L559.00,443.20 L560.00,444.74 L561.00,446.22 L562.00,447.63 L563.00,448.98 L564.00,450.28 L565.00,451.51 L566.00,452.69 L567.00,453.81 L568.00,454.88 L569.00,455.89 L570.00,456.85 L571.00,457.76 L572.00,458.62 L573.00,459.43 L574.00,460.20 L575.00,460.93 L576.00,461.61 L577.00,462.25 L578.00,462.85 L579.00,463.42 L580.00,463.95 L581.00,464.45 L582.00,464.91 L583.00,465.35 L584.00,465.75 L585.00,466.13 L586.00,466.48 L587.00,466.81 L588.00,467.11 L589.00,467.39 L590.00,467.65 L591.00,467.90 L592.00,468.12 L593.00,468.33 L594.00,468.52 L595.00,468.69 L596.00,468.86 L597.00,469.00 L598.00,469.14 L599.00,469.27 L600.00,469.38 L600.80,469.47" fill="none" stroke="#000" stroke-width="1.7" stroke-linejoin="round"/>
<path d="M346.00,470.50 L347.00,470.50 L348.00,470.50 L349.00,470.50 L350.00,470.50 L351.00,470.50 L352.00,470.50 L353.00,470.50 L354.00,470.50 L355.00,470.50 L356.00,470.50 L357.00,470.50 L358.00,470.50 L359.00,470.50 L360.00,470.50 L361.00,470.50 L362.00,470.50 L363.00,470.50 L364.00,470.50 L365.00,470.50 L366.00,470.50 L367.00,470.50 L368.00,470.50 L369.00,470.50 L370.00,470.50 L371.00,470.50 L372.00,470.50 L373.00,470.50 L374.00,470.50 L375.00,470.50 L376.00,470.50 L377.00,470.50 L378.00,470.50 L379.00,470.50 L380.00,470.50 L381.00,470.50 L382.00,470.50 L383.00,470.50 L384.00,470.50 L385.00,470.50 L386.00,470.50 L387.00,470.50 L388.00,470.50 L389.00,470.50 L390.00,470.50 L391.00,470.50 L392.00,470.50 L393.00,470.50 L394.00,470.50 L395.00,470.50 L396.00,470.50 L397.00,470.50 L398.00,470.50 L399.00,470.50 L400.00,470.50 L401.00,470.50 L402.00,470.50 L403.00,470.50 L404.00,470.50 L405.00,470.50 L406.00,470.50 L407.00,470.50 L408.00,470.50 L409.00,470.50 L410.00,470.50 L411.00,470.50 L412.00,470.50 L413.00,470.50 L414.00,470.50 L415.00,470.50 L416.00,470.50 L417.00,470.50 L418.00,470.50 L419.00,470.50 L420.00,470.50 L421.00,470.50 L422.00,470.50 L423.00,470.50 L424.00,470.50 L425.00,470.50 L426.00,470.50 L427.00,470.50 L428.00,470.50 L429.00,470.50 L430.00,470.50 L431.00,470.50 L432.00,470.50 L433.00,470.50 L434.00,470.50 L435.00,470.50 L436.00,470.50 L437.00,470.50 L438.00,470.50 L439.00,470.50 L440.00,470.50 L441.00,470.50 L442.00,470.50 L443.00,470.50 L444.00,470.50 L445.00,470.50 L446.00,470.50 L447.00,470.50 L448.00,470.50 L449.00,470.50 L450.00,470.50 L451.00,470.50 L452.00,470.50 L453.00,470.50 L454.00,470.50 L455.00,470.50 L456.00,470.50 L457.00,470.50 L458.00,470.50 L459.00,470.50 L460.00,470.50 L461.00,470.50 L462.00,470.50 L463.00,470.50 L464.00,470.49 L465.00,470.49 L466.00,470.49 L467.00,470.49 L468.00,470.49 L469.00,470.48 L470.00,470.48 L471.00,470.47 L472.00,470.47 L473.00,470.46 L474.00,470.45 L475.00,470.44 L476.00,470.42 L477.00,470.41 L478.00,470.39 L479.00,470.36 L480.00,470.33 L481.00,470.30 L482.00,470.26 L483.00,470.21 L484.00,470.15 L485.00,470.08 L486.00,470.00 L487.00,469.91 L488.00,469.81 L489.00,469.68 L490.00,469.54 L491.00,469.38 L492.00,469.19 L493.00,468.97 L494.00,468.73 L495.00,468.45 L496.00,468.13 L497.00,467.78 L498.00,467.38 L499.00,466.93 L500.00,466.43 L501.00,465.87 L502.00,465.25 L503.00,464.56 L504.00,463.81 L505.00,462.98 L506.00,462.07 L507.00,461.08 L508.00,460.00 L509.00,458.84 L510.00,457.58 L511.00,456.24 L512.00,454.79 L513.00,453.25 L514.00,451.62 L515.00,449.89 L516.00,448.06 L517.00,446.15 L518.00,444.15 L519.00,442.07 L520.00,439.92 L521.00,437.70 L522.00,435.42 L523.00,433.09 L524.00,430.72 L525.00,428.33 L526.00,425.92 L527.00,423.51 L528.00,421.12 L529.00,418.76 L530.00,416.44 L531.00,414.18 L532.00,412.00 L533.00,409.91 L534.00,407.93 L535.00,406.08 L536.00,404.36 L537.00,402.80 L538.00,401.40 L539.00,400.18 L540.00,399.14 L541.00,398.30 L542.00,397.67 L543.00,397.24 L544.00,397.03 L545.00,397.03 L546.00,397.24 L547.00,397.67 L548.00,398.30 L549.00,399.14 L550.00,400.18 L551.00,401.40 L552.00,402.80 L553.00,404.36 L554.00,406.08 L555.00,407.93 L556.00,409.91 L557.00,412.00 L558.00,414.18 L559.00,416.44 L560.00,418.76 L561.00,421.12 L562.00,423.51 L563.00,425.92 L564.00,428.33 L565.00,430.72 L566.00,433.09 L567.00,435.42 L568.00,437.70 L569.00,439.92 L570.00,442.07 L571.00,444.15 L572.00,446.15 L573.00,448.06 L574.00,449.89 L575.00,451.62 L576.00,453.25 L577.00,454.79 L578.00,456.24 L579.00,457.58 L580.00,458.84 L581.00,460.00 L582.00,461.08 L583.00,462.07 L584.00,462.98 L585.00,463.81 L586.00,464.56 L587.00,465.25 L588.00,465.87 L589.00,466.43 L590.00,466.93 L591.00,467.38 L592.00,467.78 L593.00,468.13 L594.00,468.45 L595.00,468.73 L596.00,468.97 L597.00,469.19 L598.00,469.38 L599.00,469.54 L600.00,469.68 L600.80,469.78" fill="none" stroke="#000" stroke-width="1.7" stroke-linejoin="round"/>
<path d="M346.00,461.80 C348.22,460.13 354.87,455.90 359.30,451.80 C363.73,447.70 369.05,441.63 372.60,437.20 C376.15,432.77 377.72,429.42 380.60,425.20 C383.48,420.98 386.80,415.88 389.90,411.90 C393.00,407.92 396.33,404.07 399.20,401.30 C402.07,398.53 404.45,396.58 407.10,395.30 C409.75,394.02 411.95,393.72 415.10,393.60 C418.25,393.48 421.87,393.83 426.00,394.60 C430.13,395.37 436.47,397.78 439.90,398.20 C443.33,398.62 444.15,398.38 446.60,397.10 C449.05,395.82 451.95,393.37 454.60,390.50 C457.25,387.63 459.85,383.88 462.50,379.90 C465.15,375.92 468.07,371.03 470.50,366.60 C472.93,362.17 474.97,357.08 477.10,353.30 C479.23,349.52 480.28,348.90 483.30,343.90 C486.32,338.90 491.65,327.73 495.20,323.30 C498.75,318.87 501.05,318.63 504.60,317.30 C508.15,315.97 512.78,315.55 516.50,315.30 C520.22,315.05 524.02,315.02 526.90,315.80 C529.78,316.58 531.68,317.57 533.80,320.00 C535.92,322.43 537.67,326.17 539.60,330.40 C541.53,334.63 543.47,339.83 545.40,345.40 C547.33,350.97 549.28,357.27 551.20,363.80 C553.12,370.33 554.98,378.05 556.90,384.60 C558.82,391.15 560.77,396.95 562.70,403.10 C564.63,409.25 566.38,415.73 568.50,421.50 C570.62,427.27 573.10,432.70 575.40,437.70 C577.70,442.70 580.00,447.65 582.30,451.50 C584.60,455.35 586.50,458.18 589.20,460.80 C591.90,463.42 596.57,466.03 598.50,467.20 C600.43,468.37 600.42,467.70 600.80,467.80" fill="none" stroke="#ff0000" stroke-width="1.8" stroke-linejoin="round"/>
</g>
<line x1="346.10" y1="264.80" x2="346.10" y2="470.50" stroke="#929292" stroke-width="1.1"/>
<line x1="600.80" y1="264.80" x2="600.80" y2="470.50" stroke="#858585" stroke-width="1.4"/>
<line x1="346.10" y1="264.80" x2="600.80" y2="264.80" stroke="#707070" stroke-width="1.4" stroke-linecap="square"/>
<line x1="345.60" y1="470.70" x2="601.30" y2="470.70" stroke="#1a1a1a" stroke-width="1.3"/>
<line x1="499.30" y1="470.50" x2="499.30" y2="474.00" stroke="#333" stroke-width="0.8"/>
<text class="tk" style="font-size:9px" x="490.90" y="483.50" textLength="17.3" lengthAdjust="spacingAndGlyphs">1400</text>
<text class="ax" font-size="15.8" text-anchor="middle" transform="translate(326.30,371.90) rotate(-90)">Absorbance (a.u.)</text>
<text class="ax" font-size="15.2" x="407.00" y="507.30" letter-spacing="0.42">Wavenumber (cm<tspan font-size="9" dy="-6.5">-1</tspan><tspan dy="6.5">)</tspan></text>
<text class="lab" style="font-size:16.5px" stroke="#111" stroke-width="0.3" x="350.50" y="284.50" textLength="20.00" lengthAdjust="spacingAndGlyphs">(d)</text>
<text class="ann" x="390.40" y="289.90">Free ion (1400 cm<tspan font-size="8" dy="-5">-1</tspan><tspan dy="5">)</tspan></text>
<text class="ann" x="354.70" y="335.30">Contact ion</text>
<text class="ann" x="354.70" y="352.70">(1365 cm<tspan font-size="8" dy="-5">-1</tspan><tspan dy="5">)</tspan></text>
<text class="ann" x="540.30" y="304.30">Contact ion</text>
<text class="ann" x="540.30" y="322.30">(1417 cm<tspan font-size="8" dy="-5">-1</tspan><tspan dy="5">)</tspan></text>
<line x1="470.60" y1="297.90" x2="495.50" y2="322.50" stroke="#444" stroke-width="0.75" marker-end="url(#ah)"/>
<line x1="389.60" y1="357.20" x2="404.30" y2="393.50" stroke="#444" stroke-width="0.75" marker-end="url(#ah)"/>
<line x1="562.70" y1="329.20" x2="545.40" y2="393.80" stroke="#444" stroke-width="0.75" marker-end="url(#ah)"/>
<line x1="516.50" y1="308.00" x2="516.50" y2="314.60" stroke="#ff3030" stroke-width="0.9"/>
<clipPath id="clip_e"><rect x="188.00" y="531.70" width="260.70" height="209.10"/></clipPath>
<g clip-path="url(#clip_e)">
<path d="M188.00,738.80 L188.00,738.80 L189.00,738.80 L190.00,738.79 L191.00,738.79 L192.00,738.79 L193.00,738.79 L194.00,738.79 L195.00,738.79 L196.00,738.79 L197.00,738.79 L198.00,738.78 L199.00,738.78 L200.00,738.78 L201.00,738.78 L202.00,738.77 L203.00,738.77 L204.00,738.76 L205.00,738.76 L206.00,738.75 L207.00,738.75 L208.00,738.74 L209.00,738.73 L210.00,738.73 L211.00,738.72 L212.00,738.71 L213.00,738.69 L214.00,738.68 L215.00,738.67 L216.00,738.65 L217.00,738.63 L218.00,738.61 L219.00,738.59 L220.00,738.56 L221.00,738.54 L222.00,738.51 L223.00,738.47 L224.00,738.44 L225.00,738.40 L226.00,738.35 L227.00,738.30 L228.00,738.25 L229.00,738.19 L230.00,738.12 L231.00,738.05 L232.00,737.97 L233.00,737.89 L234.00,737.79 L235.00,737.69 L236.00,737.58 L237.00,737.46 L238.00,737.33 L239.00,737.18 L240.00,737.03 L241.00,736.86 L242.00,736.67 L243.00,736.47 L244.00,736.26 L245.00,736.02 L246.00,735.77 L247.00,735.50 L248.00,735.21 L249.00,734.89 L250.00,734.55 L251.00,734.19 L252.00,733.80 L253.00,733.38 L254.00,732.93 L255.00,732.46 L256.00,731.94 L257.00,731.40 L258.00,730.82 L259.00,730.19 L260.00,729.53 L261.00,728.83 L262.00,728.09 L263.00,727.30 L264.00,726.46 L265.00,725.57 L266.00,724.64 L267.00,723.65 L268.00,722.61 L269.00,721.51 L270.00,720.35 L271.00,719.14 L272.00,717.86 L273.00,716.52 L274.00,715.12 L275.00,713.65 L276.00,712.11 L277.00,710.51 L278.00,708.84 L279.00,707.10 L280.00,705.29 L281.00,703.41 L282.00,701.45 L283.00,699.43 L284.00,697.33 L285.00,695.16 L286.00,692.92 L287.00,690.61 L288.00,688.23 L289.00,685.79 L290.00,683.27 L291.00,680.69 L292.00,678.04 L293.00,675.33 L294.00,672.56 L295.00,669.74 L296.00,666.86 L297.00,663.92 L298.00,660.94 L299.00,657.92 L300.00,654.85 L301.00,651.75 L302.00,648.62 L303.00,645.46 L304.00,642.28 L305.00,639.08 L306.00,635.87 L307.00,632.66 L308.00,629.44 L309.00,626.23 L310.00,623.03 L311.00,619.86 L312.00,616.70 L313.00,613.58 L314.00,610.50 L315.00,607.46 L316.00,604.47 L317.00,601.54 L318.00,598.67 L319.00,595.88 L320.00,593.16 L321.00,590.53 L322.00,587.99 L323.00,585.55 L324.00,583.21 L325.00,580.98 L326.00,578.86 L327.00,576.87 L328.00,575.00 L329.00,573.26 L330.00,571.65 L331.00,570.19 L332.00,568.87 L333.00,567.69 L334.00,566.67 L335.00,565.80 L336.00,565.08 L337.00,564.52 L338.00,564.12 L339.00,563.88 L340.00,563.80 L341.00,563.88 L342.00,564.12 L343.00,564.52 L344.00,565.08 L345.00,565.80 L346.00,566.67 L347.00,567.69 L348.00,568.87 L349.00,570.19 L350.00,571.65 L351.00,573.26 L352.00,575.00 L353.00,576.87 L354.00,578.86 L355.00,580.98 L356.00,583.21 L357.00,585.55 L358.00,587.99 L359.00,590.53 L360.00,593.16 L361.00,595.88 L362.00,598.67 L363.00,601.54 L364.00,604.47 L365.00,607.46 L366.00,610.50 L367.00,613.58 L368.00,616.70 L369.00,619.86 L370.00,623.03 L371.00,626.23 L372.00,629.44 L373.00,632.66 L374.00,635.87 L375.00,639.08 L376.00,642.28 L377.00,645.46 L378.00,648.62 L379.00,651.75 L380.00,654.85 L381.00,657.92 L382.00,660.94 L383.00,663.92 L384.00,666.86 L385.00,669.74 L386.00,672.56 L387.00,675.33 L388.00,678.04 L389.00,680.69 L390.00,683.27 L391.00,685.79 L392.00,688.23 L393.00,690.61 L394.00,692.92 L395.00,695.16 L396.00,697.33 L397.00,699.43 L398.00,701.45 L399.00,703.41 L400.00,705.29 L401.00,707.10 L402.00,708.84 L403.00,710.51 L404.00,712.11 L405.00,713.65 L406.00,715.12 L407.00,716.52 L408.00,717.86 L409.00,719.14 L410.00,720.35 L411.00,721.51 L412.00,722.61 L413.00,723.65 L414.00,724.64 L415.00,725.57 L416.00,726.46 L417.00,727.30 L418.00,728.09 L419.00,728.83 L420.00,729.53 L421.00,730.19 L422.00,730.82 L423.00,731.40 L424.00,731.94 L425.00,732.46 L426.00,732.93 L427.00,733.38 L428.00,733.80 L429.00,734.19 L430.00,734.55 L431.00,734.89 L432.00,735.21 L433.00,735.50 L434.00,735.77 L435.00,736.02 L436.00,736.26 L437.00,736.47 L438.00,736.67 L439.00,736.86 L440.00,737.03 L441.00,737.18 L442.00,737.33 L443.00,737.46 L444.00,737.58 L445.00,737.69 L446.00,737.79 L447.00,737.89 L448.00,737.97 L448.70,738.03 L448.70,738.80 Z" fill="#cfcfcf"/>
<path d="M188.00,738.80 L188.00,716.08 L189.00,715.02 L190.00,713.92 L191.00,712.80 L192.00,711.65 L193.00,710.47 L194.00,709.25 L195.00,708.01 L196.00,706.74 L197.00,705.45 L198.00,704.13 L199.00,702.78 L200.00,701.41 L201.00,700.01 L202.00,698.59 L203.00,697.16 L204.00,695.70 L205.00,694.23 L206.00,692.74 L207.00,691.23 L208.00,689.72 L209.00,688.19 L210.00,686.66 L211.00,685.11 L212.00,683.57 L213.00,682.02 L214.00,680.48 L215.00,678.93 L216.00,677.39 L217.00,675.86 L218.00,674.34 L219.00,672.84 L220.00,671.34 L221.00,669.87 L222.00,668.42 L223.00,666.99 L224.00,665.58 L225.00,664.21 L226.00,662.86 L227.00,661.55 L228.00,660.28 L229.00,659.04 L230.00,657.85 L231.00,656.70 L232.00,655.59 L233.00,654.54 L234.00,653.53 L235.00,652.58 L236.00,651.68 L237.00,650.84 L238.00,650.06 L239.00,649.33 L240.00,648.67 L241.00,648.08 L242.00,647.54 L243.00,647.08 L244.00,646.68 L245.00,646.34 L246.00,646.08 L247.00,645.88 L248.00,645.76 L249.00,645.70 L250.00,645.72 L251.00,645.80 L252.00,645.95 L253.00,646.18 L254.00,646.47 L255.00,646.83 L256.00,647.26 L257.00,647.75 L258.00,648.31 L259.00,648.93 L260.00,649.62 L261.00,650.36 L262.00,651.17 L263.00,652.03 L264.00,652.95 L265.00,653.93 L266.00,654.95 L267.00,656.03 L268.00,657.15 L269.00,658.32 L270.00,659.53 L271.00,660.78 L272.00,662.07 L273.00,663.40 L274.00,664.75 L275.00,666.14 L276.00,667.56 L277.00,668.99 L278.00,670.46 L279.00,671.94 L280.00,673.44 L281.00,674.95 L282.00,676.47 L283.00,678.01 L284.00,679.55 L285.00,681.09 L286.00,682.64 L287.00,684.19 L288.00,685.73 L289.00,687.27 L290.00,688.80 L291.00,690.32 L292.00,691.84 L293.00,693.33 L294.00,694.82 L295.00,696.29 L296.00,697.73 L297.00,699.16 L298.00,700.57 L299.00,701.96 L300.00,703.32 L301.00,704.66 L302.00,705.97 L303.00,707.26 L304.00,708.51 L305.00,709.74 L306.00,710.94 L307.00,712.11 L308.00,713.25 L309.00,714.36 L310.00,715.44 L311.00,716.49 L312.00,717.51 L313.00,718.50 L314.00,719.45 L315.00,720.38 L316.00,721.27 L317.00,722.13 L318.00,722.96 L319.00,723.76 L320.00,724.54 L321.00,725.28 L322.00,725.99 L323.00,726.68 L324.00,727.33 L325.00,727.96 L326.00,728.57 L327.00,729.14 L328.00,729.69 L329.00,730.22 L330.00,730.72 L331.00,731.20 L332.00,731.65 L333.00,732.08 L334.00,732.50 L335.00,732.89 L336.00,733.26 L337.00,733.61 L338.00,733.94 L339.00,734.26 L340.00,734.55 L341.00,734.83 L342.00,735.10 L343.00,735.35 L344.00,735.58 L345.00,735.81 L346.00,736.02 L347.00,736.21 L348.00,736.39 L349.00,736.57 L350.00,736.73 L351.00,736.88 L352.00,737.02 L353.00,737.15 L354.00,737.28 L355.00,737.39 L356.00,737.50 L357.00,737.60 L358.00,737.70 L359.00,737.78 L360.00,737.86 L361.00,737.94 L362.00,738.01 L363.00,738.07 L364.00,738.13 L365.00,738.19 L366.00,738.24 L367.00,738.29 L368.00,738.33 L369.00,738.37 L370.00,738.41 L371.00,738.44 L372.00,738.47 L373.00,738.50 L374.00,738.53 L375.00,738.55 L376.00,738.57 L377.00,738.60 L378.00,738.61 L379.00,738.63 L380.00,738.65 L381.00,738.66 L382.00,738.67 L383.00,738.69 L384.00,738.70 L385.00,738.71 L386.00,738.72 L387.00,738.72 L388.00,738.73 L389.00,738.74 L390.00,738.74 L391.00,738.75 L392.00,738.76 L393.00,738.76 L394.00,738.76 L395.00,738.77 L396.00,738.77 L397.00,738.77 L398.00,738.78 L399.00,738.78 L400.00,738.78 L401.00,738.78 L402.00,738.79 L403.00,738.79 L404.00,738.79 L405.00,738.79 L406.00,738.79 L407.00,738.79 L408.00,738.79 L409.00,738.79 L410.00,738.79 L411.00,738.79 L412.00,738.80 L413.00,738.80 L414.00,738.80 L415.00,738.80 L416.00,738.80 L417.00,738.80 L418.00,738.80 L419.00,738.80 L420.00,738.80 L421.00,738.80 L422.00,738.80 L423.00,738.80 L424.00,738.80 L425.00,738.80 L426.00,738.80 L427.00,738.80 L428.00,738.80 L429.00,738.80 L430.00,738.80 L431.00,738.80 L432.00,738.80 L433.00,738.80 L434.00,738.80 L435.00,738.80 L436.00,738.80 L437.00,738.80 L438.00,738.80 L439.00,738.80 L440.00,738.80 L441.00,738.80 L442.00,738.80 L443.00,738.80 L444.00,738.80 L445.00,738.80 L446.00,738.80 L447.00,738.80 L448.00,738.80 L448.70,738.80 L448.70,738.80 Z" fill="url(#hatch)"/>
<path d="M188.00,738.80 L188.00,738.80 L189.00,738.80 L190.00,738.80 L191.00,738.80 L192.00,738.80 L193.00,738.80 L194.00,738.80 L195.00,738.80 L196.00,738.80 L197.00,738.80 L198.00,738.80 L199.00,738.80 L200.00,738.80 L201.00,738.80 L202.00,738.80 L203.00,738.80 L204.00,738.80 L205.00,738.80 L206.00,738.80 L207.00,738.80 L208.00,738.80 L209.00,738.80 L210.00,738.80 L211.00,738.80 L212.00,738.80 L213.00,738.80 L214.00,738.80 L215.00,738.80 L216.00,738.80 L217.00,738.80 L218.00,738.80 L219.00,738.80 L220.00,738.80 L221.00,738.80 L222.00,738.80 L223.00,738.80 L224.00,738.80 L225.00,738.80 L226.00,738.80 L227.00,738.80 L228.00,738.80 L229.00,738.80 L230.00,738.80 L231.00,738.80 L232.00,738.80 L233.00,738.80 L234.00,738.80 L235.00,738.80 L236.00,738.80 L237.00,738.80 L238.00,738.80 L239.00,738.80 L240.00,738.80 L241.00,738.80 L242.00,738.80 L243.00,738.80 L244.00,738.80 L245.00,738.80 L246.00,738.80 L247.00,738.80 L248.00,738.80 L249.00,738.80 L250.00,738.80 L251.00,738.80 L252.00,738.80 L253.00,738.80 L254.00,738.80 L255.00,738.80 L256.00,738.80 L257.00,738.80 L258.00,738.80 L259.00,738.80 L260.00,738.80 L261.00,738.80 L262.00,738.80 L263.00,738.80 L264.00,738.80 L265.00,738.80 L266.00,738.80 L267.00,738.80 L268.00,738.80 L269.00,738.80 L270.00,738.80 L271.00,738.80 L272.00,738.80 L273.00,738.80 L274.00,738.80 L275.00,738.80 L276.00,738.80 L277.00,738.80 L278.00,738.80 L279.00,738.80 L280.00,738.80 L281.00,738.80 L282.00,738.80 L283.00,738.80 L284.00,738.80 L285.00,738.80 L286.00,738.80 L287.00,738.80 L288.00,738.80 L289.00,738.80 L290.00,738.80 L291.00,738.80 L292.00,738.80 L293.00,738.80 L294.00,738.80 L295.00,738.80 L296.00,738.80 L297.00,738.80 L298.00,738.80 L299.00,738.80 L300.00,738.80 L301.00,738.79 L302.00,738.79 L303.00,738.79 L304.00,738.79 L305.00,738.79 L306.00,738.78 L307.00,738.78 L308.00,738.78 L309.00,738.77 L310.00,738.77 L311.00,738.76 L312.00,738.75 L313.00,738.74 L314.00,738.72 L315.00,738.71 L316.00,738.69 L317.00,738.67 L318.00,738.64 L319.00,738.61 L320.00,738.57 L321.00,738.53 L322.00,738.48 L323.00,738.42 L324.00,738.35 L325.00,738.27 L326.00,738.18 L327.00,738.07 L328.00,737.95 L329.00,737.81 L330.00,737.65 L331.00,737.46 L332.00,737.25 L333.00,737.01 L334.00,736.74 L335.00,736.44 L336.00,736.10 L337.00,735.72 L338.00,735.29 L339.00,734.81 L340.00,734.28 L341.00,733.69 L342.00,733.04 L343.00,732.32 L344.00,731.53 L345.00,730.67 L346.00,729.73 L347.00,728.71 L348.00,727.60 L349.00,726.40 L350.00,725.11 L351.00,723.72 L352.00,722.23 L353.00,720.64 L354.00,718.95 L355.00,717.17 L356.00,715.28 L357.00,713.29 L358.00,711.20 L359.00,709.02 L360.00,706.75 L361.00,704.40 L362.00,701.97 L363.00,699.47 L364.00,696.90 L365.00,694.29 L366.00,691.63 L367.00,688.94 L368.00,686.24 L369.00,683.53 L370.00,680.83 L371.00,678.16 L372.00,675.52 L373.00,672.94 L374.00,670.44 L375.00,668.02 L376.00,665.70 L377.00,663.50 L378.00,661.44 L379.00,659.52 L380.00,657.76 L381.00,656.18 L382.00,654.79 L383.00,653.59 L384.00,652.60 L385.00,651.81 L386.00,651.25 L387.00,650.91 L388.00,650.80 L389.00,650.91 L390.00,651.25 L391.00,651.81 L392.00,652.60 L393.00,653.59 L394.00,654.79 L395.00,656.18 L396.00,657.76 L397.00,659.52 L398.00,661.44 L399.00,663.50 L400.00,665.70 L401.00,668.02 L402.00,670.44 L403.00,672.94 L404.00,675.52 L405.00,678.16 L406.00,680.83 L407.00,683.53 L408.00,686.24 L409.00,688.94 L410.00,691.63 L411.00,694.29 L412.00,696.90 L413.00,699.47 L414.00,701.97 L415.00,704.40 L416.00,706.75 L417.00,709.02 L418.00,711.20 L419.00,713.29 L420.00,715.28 L421.00,717.17 L422.00,718.95 L423.00,720.64 L424.00,722.23 L425.00,723.72 L426.00,725.11 L427.00,726.40 L428.00,727.60 L429.00,728.71 L430.00,729.73 L431.00,730.67 L432.00,731.53 L433.00,732.32 L434.00,733.04 L435.00,733.69 L436.00,734.28 L437.00,734.81 L438.00,735.29 L439.00,735.72 L440.00,736.10 L441.00,736.44 L442.00,736.74 L443.00,737.01 L444.00,737.25 L445.00,737.46 L446.00,737.65 L447.00,737.81 L448.00,737.95 L448.70,738.04 L448.70,738.80 Z" fill="url(#hatch)"/>
<path d="M188.00,716.08 L189.00,715.02 L190.00,713.92 L191.00,712.80 L192.00,711.65 L193.00,710.47 L194.00,709.25 L195.00,708.01 L196.00,706.74 L197.00,705.45 L198.00,704.13 L199.00,702.78 L200.00,701.41 L201.00,700.01 L202.00,698.59 L203.00,697.16 L204.00,695.70 L205.00,694.23 L206.00,692.74 L207.00,691.23 L208.00,689.72 L209.00,688.19 L210.00,686.66 L211.00,685.11 L212.00,683.57 L213.00,682.02 L214.00,680.48 L215.00,678.93 L216.00,677.39 L217.00,675.86 L218.00,674.34 L219.00,672.84 L220.00,671.34 L221.00,669.87 L222.00,668.42 L223.00,666.99 L224.00,665.58 L225.00,664.21 L226.00,662.86 L227.00,661.55 L228.00,660.28 L229.00,659.04 L230.00,657.85 L231.00,656.70 L232.00,655.59 L233.00,654.54 L234.00,653.53 L235.00,652.58 L236.00,651.68 L237.00,650.84 L238.00,650.06 L239.00,649.33 L240.00,648.67 L241.00,648.08 L242.00,647.54 L243.00,647.08 L244.00,646.68 L245.00,646.34 L246.00,646.08 L247.00,645.88 L248.00,645.76 L249.00,645.70 L250.00,645.72 L251.00,645.80 L252.00,645.95 L253.00,646.18 L254.00,646.47 L255.00,646.83 L256.00,647.26 L257.00,647.75 L258.00,648.31 L259.00,648.93 L260.00,649.62 L261.00,650.36 L262.00,651.17 L263.00,652.03 L264.00,652.95 L265.00,653.93 L266.00,654.95 L267.00,656.03 L268.00,657.15 L269.00,658.32 L270.00,659.53 L271.00,660.78 L272.00,662.07 L273.00,663.40 L274.00,664.75 L275.00,666.14 L276.00,667.56 L277.00,668.99 L278.00,670.46 L279.00,671.94 L280.00,673.44 L281.00,674.95 L282.00,676.47 L283.00,678.01 L284.00,679.55 L285.00,681.09 L286.00,682.64 L287.00,684.19 L288.00,685.73 L289.00,687.27 L290.00,688.80 L291.00,690.32 L292.00,691.84 L293.00,693.33 L294.00,694.82 L295.00,696.29 L296.00,697.73 L297.00,699.16 L298.00,700.57 L299.00,701.96 L300.00,703.32 L301.00,704.66 L302.00,705.97 L303.00,707.26 L304.00,708.51 L305.00,709.74 L306.00,710.94 L307.00,712.11 L308.00,713.25 L309.00,714.36 L310.00,715.44 L311.00,716.49 L312.00,717.51 L313.00,718.50 L314.00,719.45 L315.00,720.38 L316.00,721.27 L317.00,722.13 L318.00,722.96 L319.00,723.76 L320.00,724.54 L321.00,725.28 L322.00,725.99 L323.00,726.68 L324.00,727.33 L325.00,727.96 L326.00,728.57 L327.00,729.14 L328.00,729.69 L329.00,730.22 L330.00,730.72 L331.00,731.20 L332.00,731.65 L333.00,732.08 L334.00,732.50 L335.00,732.89 L336.00,733.26 L337.00,733.61 L338.00,733.94 L339.00,734.26 L340.00,734.55 L341.00,734.83 L342.00,735.10 L343.00,735.35 L344.00,735.58 L345.00,735.81 L346.00,736.02 L347.00,736.21 L348.00,736.39 L349.00,736.57 L350.00,736.73 L351.00,736.88 L352.00,737.02 L353.00,737.15 L354.00,737.28 L355.00,737.39 L356.00,737.50 L357.00,737.60 L358.00,737.70 L359.00,737.78 L360.00,737.86 L361.00,737.94 L362.00,738.01 L363.00,738.07 L364.00,738.13 L365.00,738.19 L366.00,738.24 L367.00,738.29 L368.00,738.33 L369.00,738.37 L370.00,738.41 L371.00,738.44 L372.00,738.47 L373.00,738.50 L374.00,738.53 L375.00,738.55 L376.00,738.57 L377.00,738.60 L378.00,738.61 L379.00,738.63 L380.00,738.65 L381.00,738.66 L382.00,738.67 L383.00,738.69 L384.00,738.70 L385.00,738.71 L386.00,738.72 L387.00,738.72 L388.00,738.73 L389.00,738.74 L390.00,738.74 L391.00,738.75 L392.00,738.76 L393.00,738.76 L394.00,738.76 L395.00,738.77 L396.00,738.77 L397.00,738.77 L398.00,738.78 L399.00,738.78 L400.00,738.78 L401.00,738.78 L402.00,738.79 L403.00,738.79 L404.00,738.79 L405.00,738.79 L406.00,738.79 L407.00,738.79 L408.00,738.79 L409.00,738.79 L410.00,738.79 L411.00,738.79 L412.00,738.80 L413.00,738.80 L414.00,738.80 L415.00,738.80 L416.00,738.80 L417.00,738.80 L418.00,738.80 L419.00,738.80 L420.00,738.80 L421.00,738.80 L422.00,738.80 L423.00,738.80 L424.00,738.80 L425.00,738.80 L426.00,738.80 L427.00,738.80 L428.00,738.80 L429.00,738.80 L430.00,738.80 L431.00,738.80 L432.00,738.80 L433.00,738.80 L434.00,738.80 L435.00,738.80 L436.00,738.80 L437.00,738.80 L438.00,738.80 L439.00,738.80 L440.00,738.80 L441.00,738.80 L442.00,738.80 L443.00,738.80 L444.00,738.80 L445.00,738.80 L446.00,738.80 L447.00,738.80 L448.00,738.80 L448.70,738.80" fill="none" stroke="#000" stroke-width="1.7" stroke-linejoin="round"/>
<path d="M188.00,738.80 L189.00,738.80 L190.00,738.79 L191.00,738.79 L192.00,738.79 L193.00,738.79 L194.00,738.79 L195.00,738.79 L196.00,738.79 L197.00,738.79 L198.00,738.78 L199.00,738.78 L200.00,738.78 L201.00,738.78 L202.00,738.77 L203.00,738.77 L204.00,738.76 L205.00,738.76 L206.00,738.75 L207.00,738.75 L208.00,738.74 L209.00,738.73 L210.00,738.73 L211.00,738.72 L212.00,738.71 L213.00,738.69 L214.00,738.68 L215.00,738.67 L216.00,738.65 L217.00,738.63 L218.00,738.61 L219.00,738.59 L220.00,738.56 L221.00,738.54 L222.00,738.51 L223.00,738.47 L224.00,738.44 L225.00,738.40 L226.00,738.35 L227.00,738.30 L228.00,738.25 L229.00,738.19 L230.00,738.12 L231.00,738.05 L232.00,737.97 L233.00,737.89 L234.00,737.79 L235.00,737.69 L236.00,737.58 L237.00,737.46 L238.00,737.33 L239.00,737.18 L240.00,737.03 L241.00,736.86 L242.00,736.67 L243.00,736.47 L244.00,736.26 L245.00,736.02 L246.00,735.77 L247.00,735.50 L248.00,735.21 L249.00,734.89 L250.00,734.55 L251.00,734.19 L252.00,733.80 L253.00,733.38 L254.00,732.93 L255.00,732.46 L256.00,731.94 L257.00,731.40 L258.00,730.82 L259.00,730.19 L260.00,729.53 L261.00,728.83 L262.00,728.09 L263.00,727.30 L264.00,726.46 L265.00,725.57 L266.00,724.64 L267.00,723.65 L268.00,722.61 L269.00,721.51 L270.00,720.35 L271.00,719.14 L272.00,717.86 L273.00,716.52 L274.00,715.12 L275.00,713.65 L276.00,712.11 L277.00,710.51 L278.00,708.84 L279.00,707.10 L280.00,705.29 L281.00,703.41 L282.00,701.45 L283.00,699.43 L284.00,697.33 L285.00,695.16 L286.00,692.92 L287.00,690.61 L288.00,688.23 L289.00,685.79 L290.00,683.27 L291.00,680.69 L292.00,678.04 L293.00,675.33 L294.00,672.56 L295.00,669.74 L296.00,666.86 L297.00,663.92 L298.00,660.94 L299.00,657.92 L300.00,654.85 L301.00,651.75 L302.00,648.62 L303.00,645.46 L304.00,642.28 L305.00,639.08 L306.00,635.87 L307.00,632.66 L308.00,629.44 L309.00,626.23 L310.00,623.03 L311.00,619.86 L312.00,616.70 L313.00,613.58 L314.00,610.50 L315.00,607.46 L316.00,604.47 L317.00,601.54 L318.00,598.67 L319.00,595.88 L320.00,593.16 L321.00,590.53 L322.00,587.99 L323.00,585.55 L324.00,583.21 L325.00,580.98 L326.00,578.86 L327.00,576.87 L328.00,575.00 L329.00,573.26 L330.00,571.65 L331.00,570.19 L332.00,568.87 L333.00,567.69 L334.00,566.67 L335.00,565.80 L336.00,565.08 L337.00,564.52 L338.00,564.12 L339.00,563.88 L340.00,563.80 L341.00,563.88 L342.00,564.12 L343.00,564.52 L344.00,565.08 L345.00,565.80 L346.00,566.67 L347.00,567.69 L348.00,568.87 L349.00,570.19 L350.00,571.65 L351.00,573.26 L352.00,575.00 L353.00,576.87 L354.00,578.86 L355.00,580.98 L356.00,583.21 L357.00,585.55 L358.00,587.99 L359.00,590.53 L360.00,593.16 L361.00,595.88 L362.00,598.67 L363.00,601.54 L364.00,604.47 L365.00,607.46 L366.00,610.50 L367.00,613.58 L368.00,616.70 L369.00,619.86 L370.00,623.03 L371.00,626.23 L372.00,629.44 L373.00,632.66 L374.00,635.87 L375.00,639.08 L376.00,642.28 L377.00,645.46 L378.00,648.62 L379.00,651.75 L380.00,654.85 L381.00,657.92 L382.00,660.94 L383.00,663.92 L384.00,666.86 L385.00,669.74 L386.00,672.56 L387.00,675.33 L388.00,678.04 L389.00,680.69 L390.00,683.27 L391.00,685.79 L392.00,688.23 L393.00,690.61 L394.00,692.92 L395.00,695.16 L396.00,697.33 L397.00,699.43 L398.00,701.45 L399.00,703.41 L400.00,705.29 L401.00,707.10 L402.00,708.84 L403.00,710.51 L404.00,712.11 L405.00,713.65 L406.00,715.12 L407.00,716.52 L408.00,717.86 L409.00,719.14 L410.00,720.35 L411.00,721.51 L412.00,722.61 L413.00,723.65 L414.00,724.64 L415.00,725.57 L416.00,726.46 L417.00,727.30 L418.00,728.09 L419.00,728.83 L420.00,729.53 L421.00,730.19 L422.00,730.82 L423.00,731.40 L424.00,731.94 L425.00,732.46 L426.00,732.93 L427.00,733.38 L428.00,733.80 L429.00,734.19 L430.00,734.55 L431.00,734.89 L432.00,735.21 L433.00,735.50 L434.00,735.77 L435.00,736.02 L436.00,736.26 L437.00,736.47 L438.00,736.67 L439.00,736.86 L440.00,737.03 L441.00,737.18 L442.00,737.33 L443.00,737.46 L444.00,737.58 L445.00,737.69 L446.00,737.79 L447.00,737.89 L448.00,737.97 L448.70,738.03" fill="none" stroke="#000" stroke-width="1.7" stroke-linejoin="round"/>
<path d="M188.00,738.80 L189.00,738.80 L190.00,738.80 L191.00,738.80 L192.00,738.80 L193.00,738.80 L194.00,738.80 L195.00,738.80 L196.00,738.80 L197.00,738.80 L198.00,738.80 L199.00,738.80 L200.00,738.80 L201.00,738.80 L202.00,738.80 L203.00,738.80 L204.00,738.80 L205.00,738.80 L206.00,738.80 L207.00,738.80 L208.00,738.80 L209.00,738.80 L210.00,738.80 L211.00,738.80 L212.00,738.80 L213.00,738.80 L214.00,738.80 L215.00,738.80 L216.00,738.80 L217.00,738.80 L218.00,738.80 L219.00,738.80 L220.00,738.80 L221.00,738.80 L222.00,738.80 L223.00,738.80 L224.00,738.80 L225.00,738.80 L226.00,738.80 L227.00,738.80 L228.00,738.80 L229.00,738.80 L230.00,738.80 L231.00,738.80 L232.00,738.80 L233.00,738.80 L234.00,738.80 L235.00,738.80 L236.00,738.80 L237.00,738.80 L238.00,738.80 L239.00,738.80 L240.00,738.80 L241.00,738.80 L242.00,738.80 L243.00,738.80 L244.00,738.80 L245.00,738.80 L246.00,738.80 L247.00,738.80 L248.00,738.80 L249.00,738.80 L250.00,738.80 L251.00,738.80 L252.00,738.80 L253.00,738.80 L254.00,738.80 L255.00,738.80 L256.00,738.80 L257.00,738.80 L258.00,738.80 L259.00,738.80 L260.00,738.80 L261.00,738.80 L262.00,738.80 L263.00,738.80 L264.00,738.80 L265.00,738.80 L266.00,738.80 L267.00,738.80 L268.00,738.80 L269.00,738.80 L270.00,738.80 L271.00,738.80 L272.00,738.80 L273.00,738.80 L274.00,738.80 L275.00,738.80 L276.00,738.80 L277.00,738.80 L278.00,738.80 L279.00,738.80 L280.00,738.80 L281.00,738.80 L282.00,738.80 L283.00,738.80 L284.00,738.80 L285.00,738.80 L286.00,738.80 L287.00,738.80 L288.00,738.80 L289.00,738.80 L290.00,738.80 L291.00,738.80 L292.00,738.80 L293.00,738.80 L294.00,738.80 L295.00,738.80 L296.00,738.80 L297.00,738.80 L298.00,738.80 L299.00,738.80 L300.00,738.80 L301.00,738.79 L302.00,738.79 L303.00,738.79 L304.00,738.79 L305.00,738.79 L306.00,738.78 L307.00,738.78 L308.00,738.78 L309.00,738.77 L310.00,738.77 L311.00,738.76 L312.00,738.75 L313.00,738.74 L314.00,738.72 L315.00,738.71 L316.00,738.69 L317.00,738.67 L318.00,738.64 L319.00,738.61 L320.00,738.57 L321.00,738.53 L322.00,738.48 L323.00,738.42 L324.00,738.35 L325.00,738.27 L326.00,738.18 L327.00,738.07 L328.00,737.95 L329.00,737.81 L330.00,737.65 L331.00,737.46 L332.00,737.25 L333.00,737.01 L334.00,736.74 L335.00,736.44 L336.00,736.10 L337.00,735.72 L338.00,735.29 L339.00,734.81 L340.00,734.28 L341.00,733.69 L342.00,733.04 L343.00,732.32 L344.00,731.53 L345.00,730.67 L346.00,729.73 L347.00,728.71 L348.00,727.60 L349.00,726.40 L350.00,725.11 L351.00,723.72 L352.00,722.23 L353.00,720.64 L354.00,718.95 L355.00,717.17 L356.00,715.28 L357.00,713.29 L358.00,711.20 L359.00,709.02 L360.00,706.75 L361.00,704.40 L362.00,701.97 L363.00,699.47 L364.00,696.90 L365.00,694.29 L366.00,691.63 L367.00,688.94 L368.00,686.24 L369.00,683.53 L370.00,680.83 L371.00,678.16 L372.00,675.52 L373.00,672.94 L374.00,670.44 L375.00,668.02 L376.00,665.70 L377.00,663.50 L378.00,661.44 L379.00,659.52 L380.00,657.76 L381.00,656.18 L382.00,654.79 L383.00,653.59 L384.00,652.60 L385.00,651.81 L386.00,651.25 L387.00,650.91 L388.00,650.80 L389.00,650.91 L390.00,651.25 L391.00,651.81 L392.00,652.60 L393.00,653.59 L394.00,654.79 L395.00,656.18 L396.00,657.76 L397.00,659.52 L398.00,661.44 L399.00,663.50 L400.00,665.70 L401.00,668.02 L402.00,670.44 L403.00,672.94 L404.00,675.52 L405.00,678.16 L406.00,680.83 L407.00,683.53 L408.00,686.24 L409.00,688.94 L410.00,691.63 L411.00,694.29 L412.00,696.90 L413.00,699.47 L414.00,701.97 L415.00,704.40 L416.00,706.75 L417.00,709.02 L418.00,711.20 L419.00,713.29 L420.00,715.28 L421.00,717.17 L422.00,718.95 L423.00,720.64 L424.00,722.23 L425.00,723.72 L426.00,725.11 L427.00,726.40 L428.00,727.60 L429.00,728.71 L430.00,729.73 L431.00,730.67 L432.00,731.53 L433.00,732.32 L434.00,733.04 L435.00,733.69 L436.00,734.28 L437.00,734.81 L438.00,735.29 L439.00,735.72 L440.00,736.10 L441.00,736.44 L442.00,736.74 L443.00,737.01 L444.00,737.25 L445.00,737.46 L446.00,737.65 L447.00,737.81 L448.00,737.95 L448.70,738.04" fill="none" stroke="#000" stroke-width="1.7" stroke-linejoin="round"/>
<path d="M188.00,719.40 C189.50,717.53 194.02,712.32 197.00,708.20 C199.98,704.08 203.17,699.18 205.90,694.70 C208.63,690.22 210.65,686.03 213.40,681.30 C216.15,676.57 219.42,670.78 222.40,666.30 C225.38,661.82 228.57,657.63 231.30,654.40 C234.03,651.17 236.30,649.02 238.80,646.90 C241.30,644.78 243.80,643.00 246.30,641.70 C248.80,640.40 251.07,639.55 253.80,639.10 C256.53,638.65 259.72,638.90 262.70,639.00 C265.68,639.10 269.32,639.68 271.70,639.70 C274.08,639.72 274.95,639.60 277.00,639.10 C279.05,638.60 281.68,637.87 284.00,636.70 C286.32,635.53 288.58,634.22 290.90,632.10 C293.22,629.98 295.77,626.90 297.90,624.00 C300.03,621.10 301.77,618.00 303.70,614.70 C305.63,611.40 307.57,607.70 309.50,604.20 C311.43,600.70 313.35,597.18 315.30,593.70 C317.25,590.22 319.25,586.78 321.20,583.30 C323.15,579.82 325.07,576.10 327.00,572.80 C328.93,569.50 330.80,566.22 332.80,563.50 C334.80,560.78 336.83,558.37 339.00,556.50 C341.17,554.63 343.63,553.22 345.80,552.30 C347.97,551.38 349.63,551.25 352.00,551.00 C354.37,550.75 356.95,550.50 360.00,550.80 C363.05,551.10 367.32,551.40 370.30,552.80 C373.28,554.20 375.35,555.78 377.90,559.20 C380.45,562.62 383.23,567.95 385.60,573.30 C387.97,578.65 389.95,584.45 392.10,591.30 C394.25,598.15 396.37,606.72 398.50,614.40 C400.63,622.08 402.77,629.72 404.90,637.40 C407.03,645.08 408.95,652.80 411.30,660.50 C413.65,668.20 416.43,676.33 419.00,683.60 C421.57,690.87 424.13,698.12 426.70,704.10 C429.27,710.08 431.83,715.23 434.40,719.50 C436.97,723.77 439.72,727.12 442.10,729.70 C444.48,732.28 447.60,734.12 448.70,735.00" fill="none" stroke="#ff0000" stroke-width="1.8" stroke-linejoin="round"/>
</g>
<line x1="188.20" y1="531.90" x2="188.20" y2="738.80" stroke="#929292" stroke-width="1.1"/>
<line x1="448.70" y1="531.90" x2="448.70" y2="738.80" stroke="#858585" stroke-width="1.4"/>
<line x1="188.20" y1="531.90" x2="448.70" y2="531.90" stroke="#707070" stroke-width="1.4" stroke-linecap="square"/>
<line x1="187.70" y1="739.00" x2="449.20" y2="739.00" stroke="#1a1a1a" stroke-width="1.3"/>
<line x1="337.30" y1="738.80" x2="337.30" y2="742.30" stroke="#333" stroke-width="0.8"/>
<text class="tk" style="font-size:9px" x="328.90" y="751.80" textLength="17.3" lengthAdjust="spacingAndGlyphs">1400</text>
<text class="ax" font-size="15.8" text-anchor="middle" transform="translate(168.70,639.40) rotate(-90)">Absorbance (a.u.)</text>
<text class="ax" font-size="15.2" x="252.00" y="775.70" letter-spacing="0.42">Wavenumber (cm<tspan font-size="9" dy="-6.5">-1</tspan><tspan dy="6.5">)</tspan></text>
<text class="lab" style="font-size:16.5px" stroke="#111" stroke-width="0.3" x="189.00" y="548.50" textLength="19.00" lengthAdjust="spacingAndGlyphs">(e)</text>
<text class="ann" x="212.70" y="562.10">Free ion (1401 cm<tspan font-size="8" dy="-5">-1</tspan><tspan dy="5">)</tspan></text>
<text class="ann" x="191.00" y="605.40">Contact ion (1364 cm<tspan font-size="8" dy="-5">-1</tspan><tspan dy="5">)</tspan></text>
<text class="ann" x="387.70" y="551.50">Contact ion</text>
<text class="ann" x="387.70" y="568.50">(1420 cm<tspan font-size="8" dy="-5">-1</tspan><tspan dy="5">)</tspan></text>
<line x1="312.60" y1="561.60" x2="338.00" y2="563.70" stroke="#444" stroke-width="0.75" stroke-dasharray="2,1.5" marker-end="url(#ah)"/>
<line x1="241.20" y1="609.40" x2="246.60" y2="641.50" stroke="#444" stroke-width="0.75" stroke-dasharray="2,1.5" marker-end="url(#ah)"/>
<line x1="408.70" y1="573.30" x2="388.90" y2="646.40" stroke="#444" stroke-width="0.75" stroke-dasharray="2,1.5" marker-end="url(#ah)"/>
<line x1="356.40" y1="545.00" x2="356.40" y2="552.00" stroke="#ff3030" stroke-width="0.9"/>
</svg></body></html>
